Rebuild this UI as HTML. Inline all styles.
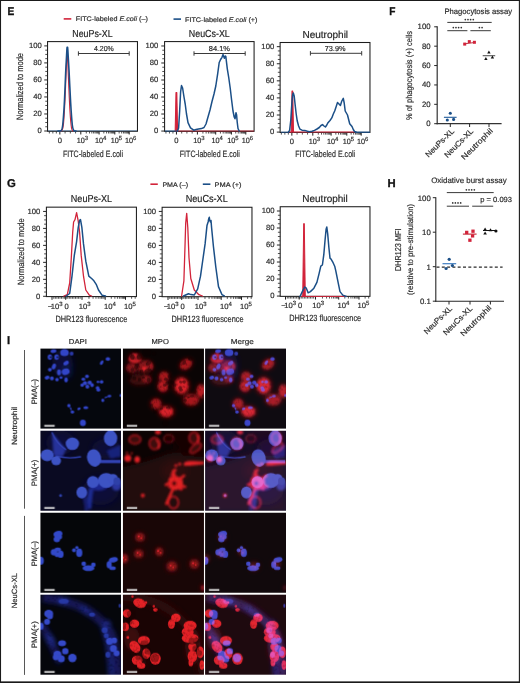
<!DOCTYPE html><html><head><meta charset="utf-8"><style>html,body{margin:0;padding:0;background:#fff}svg{display:block;will-change:transform}text{font-family:"Liberation Sans",sans-serif;text-rendering:geometricPrecision;stroke:#2b2b2b;stroke-width:0.18px}</style></head><body>
<svg width="520" height="683" viewBox="0 0 520 683">
<defs><filter id="mott" filterUnits="userSpaceOnUse" x="0" y="0" width="81" height="81"><feTurbulence type="fractalNoise" baseFrequency="0.4" numOctaves="2" seed="7" result="n"/><feColorMatrix in="n" type="matrix" values="1.3 0 0 0 0.3  1.3 0 0 0 0.3  1.3 0 0 0 0.3  0 0 0 0 1" result="g"/><feComposite in="SourceGraphic" in2="g" operator="arithmetic" k1="1" k2="0" k3="0" k4="0"/></filter><filter id="b06" x="-50%" y="-50%" width="200%" height="200%"><feGaussianBlur stdDeviation="0.6"/></filter><filter id="b08" x="-50%" y="-50%" width="200%" height="200%"><feGaussianBlur stdDeviation="0.8"/></filter><filter id="b1" x="-50%" y="-50%" width="200%" height="200%"><feGaussianBlur stdDeviation="1.0"/></filter><filter id="b2" x="-50%" y="-50%" width="200%" height="200%"><feGaussianBlur stdDeviation="2.0"/></filter><filter id="b3" x="-50%" y="-50%" width="200%" height="200%"><feGaussianBlur stdDeviation="3.0"/></filter><g id="d1"><rect width="81" height="81" fill="#05070d"/><g filter="url(#b3)"><ellipse cx="22" cy="15" rx="10" ry="14" fill="#0a1038"/><ellipse cx="26" cy="22" rx="5" ry="8" fill="#0d1650"/></g><g filter="url(#b06)"><ellipse cx="13" cy="2.6" rx="3" ry="1.8" fill="#3144c8" transform="rotate(-10 13 2.6)"/><ellipse cx="24" cy="4.1" rx="4.3" ry="3.5" fill="#3144c8"/><ellipse cx="31.1" cy="4.9" rx="2" ry="2" fill="#2a38a8"/><ellipse cx="9.4" cy="8.5" rx="2.2" ry="2.8" fill="#3144c8"/><ellipse cx="10.17" cy="8.5" rx="0.77" ry="0.84" fill="#05070d"/><ellipse cx="16.1" cy="8.5" rx="2.3" ry="2.8" fill="#3144c8"/><ellipse cx="16.91" cy="8.5" rx="0.8" ry="0.84" fill="#05070d"/><ellipse cx="25.6" cy="14.4" rx="3" ry="2" fill="#3144c8" transform="rotate(-30 25.6 14.4)"/><ellipse cx="13.4" cy="17.9" rx="2" ry="3" fill="#3144c8" transform="rotate(20 13.4 17.9)"/><ellipse cx="9.4" cy="21.1" rx="2" ry="1.8" fill="#3144c8"/><ellipse cx="18.5" cy="23.8" rx="2" ry="3" fill="#3144c8"/><ellipse cx="25.2" cy="23.1" rx="4" ry="3.2" fill="#3144c8" transform="rotate(-20 25.2 23.1)"/><ellipse cx="6.6" cy="29" rx="2.5" ry="1.8" fill="#3144c8" transform="rotate(-20 6.6 29)"/><ellipse cx="11.4" cy="29.8" rx="2" ry="2" fill="#3144c8"/><ellipse cx="16.5" cy="31" rx="1.8" ry="1.8" fill="#3144c8"/><ellipse cx="20.5" cy="29" rx="1.5" ry="1.2" fill="#3144c8"/><ellipse cx="25.6" cy="31.3" rx="1.8" ry="2.5" fill="#3144c8"/><ellipse cx="67.4" cy="10.4" rx="2.3" ry="1.8" fill="#3144c8"/><ellipse cx="61.2" cy="14" rx="1.5" ry="2.5" fill="#3144c8" transform="rotate(30 61.2 14)"/><ellipse cx="46.5" cy="27.8" rx="2" ry="1.7" fill="#3144c8"/><ellipse cx="42.9" cy="30.6" rx="2" ry="1.5" fill="#3144c8"/><ellipse cx="44.5" cy="34.5" rx="2.2" ry="2" fill="#3144c8"/><ellipse cx="49.2" cy="34.1" rx="2.2" ry="2" fill="#3144c8"/><ellipse cx="51.6" cy="36.5" rx="1.8" ry="2" fill="#3144c8"/><ellipse cx="46.9" cy="38" rx="2" ry="2" fill="#3144c8"/><ellipse cx="41.7" cy="36.5" rx="1.8" ry="1.8" fill="#3144c8"/><ellipse cx="57.5" cy="33.3" rx="1.3" ry="1.3" fill="#3144c8"/><ellipse cx="61.1" cy="33.3" rx="1.8" ry="1.8" fill="#3144c8"/><ellipse cx="57.1" cy="39.2" rx="1.8" ry="1.8" fill="#3144c8"/><ellipse cx="57.9" cy="41.2" rx="2" ry="1.7" fill="#3144c8"/><ellipse cx="68.9" cy="47.5" rx="2" ry="1.3" fill="#3144c8" transform="rotate(-10 68.9 47.5)"/><ellipse cx="65.5" cy="48.6" rx="1.8" ry="0.7" fill="#3144c8" transform="rotate(-20 65.5 48.6)"/><ellipse cx="62.3" cy="51.8" rx="1.5" ry="1.8" fill="#3144c8"/><ellipse cx="28.4" cy="57" rx="1.7" ry="1.7" fill="#3144c8"/><ellipse cx="30.3" cy="60.1" rx="0.7" ry="1.8" fill="#3144c8" transform="rotate(-20 30.3 60.1)"/><ellipse cx="31.9" cy="63.3" rx="1.8" ry="1.6" fill="#3144c8"/><ellipse cx="38.5" cy="60.1" rx="1.8" ry="1.2" fill="#3144c8" transform="rotate(-30 38.5 60.1)"/><ellipse cx="45.3" cy="59" rx="2.5" ry="1.5" fill="#3144c8"/><ellipse cx="42.4" cy="74.3" rx="3" ry="3.2" fill="#3144c8"/><ellipse cx="80.2" cy="46.7" rx="1.2" ry="1.5" fill="#3144c8"/></g></g><g id="m1"><rect width="81" height="81" fill="#0a0404"/><g filter="url(#mott)"><g filter="url(#b2)"><ellipse cx="11.9" cy="9.7" rx="7.15" ry="6.05" fill="#440709"/><ellipse cx="22.1" cy="18.3" rx="8.8" ry="7.7" fill="#440709"/><ellipse cx="8.7" cy="19.1" rx="6.6" ry="5.5" fill="#440709"/><ellipse cx="23.6" cy="30.7" rx="5.5" ry="4.4" fill="#440709"/><ellipse cx="41" cy="28" rx="6.05" ry="5.5" fill="#5a090d"/><ellipse cx="40" cy="37.4" rx="6.05" ry="6.6" fill="#640a0e"/><ellipse cx="58.5" cy="37" rx="8.25" ry="9.35" fill="#780a10"/><ellipse cx="63" cy="15.7" rx="7.7" ry="5.5" fill="#5a090d" transform="rotate(-35 63 15.7)"/><ellipse cx="78" cy="42.5" rx="4.95" ry="7.7" fill="#640a0e"/><ellipse cx="68.2" cy="51.2" rx="8.8" ry="6.6" fill="#5a090d"/><ellipse cx="33" cy="55.2" rx="6.05" ry="6.05" fill="#5a090d"/><ellipse cx="43.4" cy="63.1" rx="8.25" ry="6.05" fill="#780a10"/><ellipse cx="17" cy="31" rx="11" ry="5.5" fill="#4a080c"/></g><g filter="url(#b1)"><ellipse cx="11.9" cy="9.7" rx="5.72" ry="4.84" fill="#86121a"/><ellipse cx="22.1" cy="18.3" rx="7.04" ry="6.16" fill="#86121a"/><ellipse cx="8.7" cy="19.1" rx="5.28" ry="4.4" fill="#86121a"/><ellipse cx="23.6" cy="30.7" rx="4.4" ry="3.52" fill="#86121a"/><ellipse cx="41" cy="28" rx="4.84" ry="4.4" fill="#a8161e"/><ellipse cx="40" cy="37.4" rx="4.84" ry="5.28" fill="#b81a22"/><ellipse cx="58.5" cy="37" rx="6.6" ry="7.48" fill="#d8202a"/><ellipse cx="63" cy="15.7" rx="6.16" ry="4.4" fill="#a8161e" transform="rotate(-35 63 15.7)"/><ellipse cx="78" cy="42.5" rx="3.96" ry="6.16" fill="#b81a22"/><ellipse cx="68.2" cy="51.2" rx="7.04" ry="5.28" fill="#a8161e"/><ellipse cx="33" cy="55.2" rx="4.84" ry="4.84" fill="#a8161e"/><ellipse cx="43.4" cy="63.1" rx="6.6" ry="4.84" fill="#d8202a"/></g></g><g filter="url(#b08)"><path d="M6.5,9.5 C8,13 14,14 17.5,10.5" stroke="#e8242c" stroke-width="2.2" fill="none"/><ellipse cx="12" cy="6.5" rx="1.8" ry="1.5" fill="#e8242c"/><ellipse cx="21.3" cy="19.9" rx="2.5" ry="2.2" fill="#e8242c"/><path d="M25,13 C28,14 29.5,17 29,20" stroke="#d0202a" stroke-width="1.5" fill="none"/></g><g filter="url(#b06)" opacity="0.45"><ellipse cx="13" cy="2.6" rx="3" ry="1.8" fill="#0b0505" transform="rotate(-10 13 2.6)"/><ellipse cx="24" cy="4.1" rx="4.3" ry="3.5" fill="#0b0505"/><ellipse cx="31.1" cy="4.9" rx="2" ry="2" fill="#0b0505"/><ellipse cx="9.4" cy="8.5" rx="2.2" ry="2.8" fill="#0b0505"/><ellipse cx="16.1" cy="8.5" rx="2.3" ry="2.8" fill="#0b0505"/><ellipse cx="25.6" cy="14.4" rx="3" ry="2" fill="#0b0505" transform="rotate(-30 25.6 14.4)"/><ellipse cx="13.4" cy="17.9" rx="2" ry="3" fill="#0b0505" transform="rotate(20 13.4 17.9)"/><ellipse cx="9.4" cy="21.1" rx="2" ry="1.8" fill="#0b0505"/><ellipse cx="18.5" cy="23.8" rx="2" ry="3" fill="#0b0505"/><ellipse cx="25.2" cy="23.1" rx="4" ry="3.2" fill="#0b0505" transform="rotate(-20 25.2 23.1)"/><ellipse cx="6.6" cy="29" rx="2.5" ry="1.8" fill="#0b0505" transform="rotate(-20 6.6 29)"/><ellipse cx="11.4" cy="29.8" rx="2" ry="2" fill="#0b0505"/><ellipse cx="16.5" cy="31" rx="1.8" ry="1.8" fill="#0b0505"/><ellipse cx="20.5" cy="29" rx="1.5" ry="1.2" fill="#0b0505"/><ellipse cx="25.6" cy="31.3" rx="1.8" ry="2.5" fill="#0b0505"/><ellipse cx="67.4" cy="10.4" rx="2.3" ry="1.8" fill="#0b0505"/><ellipse cx="61.2" cy="14" rx="1.5" ry="2.5" fill="#0b0505" transform="rotate(30 61.2 14)"/><ellipse cx="46.5" cy="27.8" rx="2" ry="1.7" fill="#0b0505"/><ellipse cx="42.9" cy="30.6" rx="2" ry="1.5" fill="#0b0505"/><ellipse cx="44.5" cy="34.5" rx="2.2" ry="2" fill="#0b0505"/><ellipse cx="49.2" cy="34.1" rx="2.2" ry="2" fill="#0b0505"/><ellipse cx="51.6" cy="36.5" rx="1.8" ry="2" fill="#0b0505"/><ellipse cx="46.9" cy="38" rx="2" ry="2" fill="#0b0505"/><ellipse cx="41.7" cy="36.5" rx="1.8" ry="1.8" fill="#0b0505"/><ellipse cx="57.5" cy="33.3" rx="1.3" ry="1.3" fill="#0b0505"/><ellipse cx="61.1" cy="33.3" rx="1.8" ry="1.8" fill="#0b0505"/><ellipse cx="57.1" cy="39.2" rx="1.8" ry="1.8" fill="#0b0505"/><ellipse cx="57.9" cy="41.2" rx="2" ry="1.7" fill="#0b0505"/><ellipse cx="68.9" cy="47.5" rx="2" ry="1.3" fill="#0b0505" transform="rotate(-10 68.9 47.5)"/><ellipse cx="65.5" cy="48.6" rx="1.8" ry="0.7" fill="#0b0505" transform="rotate(-20 65.5 48.6)"/><ellipse cx="62.3" cy="51.8" rx="1.5" ry="1.8" fill="#0b0505"/><ellipse cx="28.4" cy="57" rx="1.7" ry="1.7" fill="#0b0505"/><ellipse cx="30.3" cy="60.1" rx="0.7" ry="1.8" fill="#0b0505" transform="rotate(-20 30.3 60.1)"/><ellipse cx="31.9" cy="63.3" rx="1.8" ry="1.6" fill="#0b0505"/><ellipse cx="38.5" cy="60.1" rx="1.8" ry="1.2" fill="#0b0505" transform="rotate(-30 38.5 60.1)"/><ellipse cx="45.3" cy="59" rx="2.5" ry="1.5" fill="#0b0505"/><ellipse cx="42.4" cy="74.3" rx="3" ry="3.2" fill="#0b0505"/><ellipse cx="80.2" cy="46.7" rx="1.2" ry="1.5" fill="#0b0505"/></g></g><g id="d2"><rect width="81" height="81" fill="#0a0a22"/><g filter="url(#b3)"><ellipse cx="20" cy="12" rx="14" ry="12" fill="#0e1038"/><ellipse cx="66" cy="18" rx="14" ry="10" fill="#0e1038"/><ellipse cx="60" cy="60" rx="18" ry="14" fill="#0e1038"/></g><g filter="url(#b1)"><path d="M11.4,1.6 L25.6,19 L22,26 L13,25.3 Z" fill="#25319a"/><ellipse cx="58" cy="54" rx="10" ry="6" fill="#1e2890"/><ellipse cx="76" cy="54" rx="5" ry="6" fill="#2a36a0"/><path d="M66,20 L80,14 L80,26 L70,28 Z" fill="#18207a"/><path d="M50.8,58 C49,66 49,72 48.4,78" stroke="#1e2a90" stroke-width="5" fill="none"/><path d="M44,66 C45,70 46,74 46,80" stroke="#161e6a" stroke-width="4" fill="none"/></g><g filter="url(#b06)"><path d="M11.4,1.6 C14,8 18,14 25.6,19" stroke="#3446b8" stroke-width="1.2" fill="none"/><path d="M15.3,25.3 Q28,28.5 40.5,26" stroke="#2f40b0" stroke-width="1.4" fill="none"/><path d="M60,30.8 L80,30.8" stroke="#3242b4" stroke-width="3.2" fill="none"/></g><g filter="url(#b06)"><ellipse cx="31.9" cy="13.05" rx="6.7" ry="6.26" fill="#3d52c4"/><ellipse cx="70.1" cy="7.5" rx="6.7" ry="7.88" fill="#3d52c4"/><ellipse cx="6.7" cy="24.5" rx="6.48" ry="5.94" fill="#3d52c4"/><ellipse cx="15.7" cy="30" rx="4.86" ry="4.54" fill="#3d52c4"/><ellipse cx="53.6" cy="27.2" rx="7.02" ry="8.86" fill="#3d52c4" transform="rotate(-15 53.6 27.2)"/><ellipse cx="52.4" cy="51.3" rx="5.94" ry="5.94" fill="#3d52c4"/><ellipse cx="65.8" cy="49.7" rx="8.1" ry="7.56" fill="#3d52c4"/><ellipse cx="72.5" cy="48" rx="4.86" ry="4.86" fill="#3d52c4"/><ellipse cx="41.3" cy="61.8" rx="5.4" ry="5.94" fill="#3d52c4"/><ellipse cx="76.5" cy="50.5" rx="3.5" ry="4" fill="#2e3fa8"/><ellipse cx="20.1" cy="64.7" rx="1.5" ry="1.5" fill="#2e3fa8"/></g></g><g id="m2"><rect width="81" height="81" fill="#0c0303"/><g filter="url(#b3)"><path d="M-2,36 C10,34 25,30 41,24 C52,20 60,22 70,24 L82,26 L82,82 L-2,82 Z" fill="#240707"/><path d="M40,-2 L82,-2 L82,26 L60,24 Z" fill="#160404"/><ellipse cx="52" cy="40" rx="14" ry="10" fill="#2e0909"/></g><g filter="url(#b1)"><ellipse cx="11.9" cy="8.7" rx="6" ry="4.5" fill="#3c0a0c" stroke="#a8181f" stroke-width="1.4"/><ellipse cx="31.6" cy="12.7" rx="5.5" ry="6" fill="#3c0a0c" stroke="#a8181f" stroke-width="1.4"/><ellipse cx="71" cy="7.1" rx="5" ry="6" fill="#3c0a0c" stroke="#a8181f" stroke-width="1.4"/><ellipse cx="72.6" cy="17.4" rx="7" ry="3.5" fill="#3c0a0c" transform="rotate(-40 72.6 17.4)" stroke="#a8181f" stroke-width="1.4"/><ellipse cx="45.7" cy="7.9" rx="5" ry="4" fill="#240606" stroke="#6e1015" stroke-width="1.4"/></g><g filter="url(#b08)"><path d="M33,9 C36,11 37,15 35,18" stroke="#e02228" stroke-width="1.6" fill="none"/><path d="M74,4 C76,7 76,10 74,12" stroke="#e02228" stroke-width="1.6" fill="none"/><ellipse cx="50.5" cy="71.8" rx="5" ry="6" fill="none" stroke="#d01e26" stroke-width="1.6"/><ellipse cx="4.8" cy="27.6" rx="3.5" ry="3.5" fill="#e42228"/><ellipse cx="14.2" cy="28.8" rx="2.8" ry="3.3" fill="#e42228"/><ellipse cx="52.9" cy="34.7" rx="1.5" ry="1.5" fill="#e42228"/><ellipse cx="56.8" cy="33.2" rx="1.5" ry="1.5" fill="#e42228"/><ellipse cx="19.8" cy="64.7" rx="2" ry="2" fill="#e42228"/><ellipse cx="4" cy="22.1" rx="1" ry="1" fill="#e42228"/><ellipse cx="8.7" cy="22.5" rx="1" ry="1" fill="#e42228"/><ellipse cx="35" cy="1.5" rx="3" ry="2" fill="#e42228"/><ellipse cx="52" cy="39.4" rx="1.6" ry="1.6" fill="#e42228"/><ellipse cx="49" cy="44" rx="1.4" ry="1.4" fill="#e42228"/><ellipse cx="47" cy="56" rx="2" ry="1.5" fill="#e42228"/><ellipse cx="58" cy="58" rx="2" ry="1.8" fill="#e42228"/><path d="M60.8,32.4 C64,29 70,30.5 81,30.8 L81,33.4 C72,33.8 65,35.8 60.8,34.8 Z" fill="#e42228"/><path d="M46,47 C50,44 56,45 59,48 C61,52 60,56 57,58 C54,60 49,60 47,57 C45,54 45,50 46,47 Z" fill="#e02024"/><path d="M50.5,57 C48,63 45.5,68 43.4,73 M55,54 L62,56 M52,46 L50,40.5 M57,48 L61,45 M47,52 L43,54" stroke="#e02024" stroke-width="2.8" fill="none" stroke-linecap="round"/><ellipse cx="51.3" cy="52.6" rx="2.2" ry="2.2" fill="#300808"/></g></g><g id="d3"><rect width="81" height="81" fill="#050609"/><g filter="url(#b06)"><ellipse cx="17.48" cy="21.25" rx="4.55" ry="3.12" fill="#3148c8" transform="rotate(-15 17.48 21.25)"/><ellipse cx="16.35" cy="26.5" rx="3.25" ry="2.99" fill="#3148c8"/><ellipse cx="19.6" cy="24" rx="2.08" ry="2.6" fill="#3148c8"/><ellipse cx="13.5" cy="39.53" rx="3.25" ry="3.25" fill="#3148c8"/><ellipse cx="20.12" cy="41.4" rx="2.99" ry="3.64" fill="#3148c8"/><ellipse cx="17.25" cy="36.77" rx="3.25" ry="2.08" fill="#3148c8"/><ellipse cx="16.75" cy="41.9" rx="2.6" ry="2.34" fill="#3148c8"/><ellipse cx="33.5" cy="37.5" rx="1.95" ry="1.95" fill="#3148c8"/><ellipse cx="38.75" cy="40" rx="3.12" ry="4.29" fill="#3148c8"/><ellipse cx="36.38" cy="34.75" rx="1.69" ry="1.56" fill="#3148c8"/><ellipse cx="43.25" cy="51" rx="2.34" ry="2.34" fill="#3148c8"/><ellipse cx="48" cy="55.38" rx="5.85" ry="2.99" fill="#3148c8"/><ellipse cx="52.88" cy="52" rx="2.34" ry="2.34" fill="#3148c8"/><ellipse cx="72.92" cy="47.12" rx="4.55" ry="2.6" fill="#3148c8" transform="rotate(-10 72.92 47.12)"/><ellipse cx="68.68" cy="51.88" rx="2.6" ry="3.64" fill="#3148c8"/><ellipse cx="72.05" cy="55.38" rx="3.25" ry="1.95" fill="#3148c8"/><ellipse cx="0.5" cy="48" rx="2.86" ry="3.9" fill="#3148c8"/></g></g><g id="m3"><rect width="81" height="81" fill="#190606"/><g filter="url(#b2)"><ellipse cx="17" cy="24.4" rx="6" ry="5.5" fill="#3c080c"/><ellipse cx="15.8" cy="41" rx="6" ry="5.5" fill="#3c080c"/><ellipse cx="36.3" cy="39" rx="5" ry="5.5" fill="#3c080c"/><ellipse cx="48.9" cy="53.6" rx="7" ry="6.5" fill="#3c080c"/><ellipse cx="71.3" cy="51.3" rx="6" ry="6" fill="#3c080c"/><ellipse cx="1.3" cy="45.7" rx="5" ry="6" fill="#3c080c"/><ellipse cx="79.7" cy="75" rx="2.5" ry="4" fill="#3c080c"/></g><g filter="url(#mott)"><g filter="url(#b1)"><ellipse cx="17" cy="24.4" rx="4.2" ry="3.85" fill="#8c1218"/><ellipse cx="15.8" cy="41" rx="4.2" ry="3.85" fill="#8c1218"/><ellipse cx="36.3" cy="39" rx="3.5" ry="3.85" fill="#8c1218"/><ellipse cx="48.9" cy="53.6" rx="4.9" ry="4.55" fill="#8c1218"/><ellipse cx="71.3" cy="51.3" rx="4.2" ry="4.2" fill="#8c1218"/><ellipse cx="1.3" cy="45.7" rx="3.5" ry="4.2" fill="#8c1218"/><ellipse cx="79.7" cy="75" rx="1.75" ry="2.8" fill="#8c1218"/></g></g><g filter="url(#b06)"><ellipse cx="15.8" cy="23.6" rx="1" ry="0.9" fill="#d82430"/><ellipse cx="18.3" cy="25.3" rx="0.9" ry="0.9" fill="#c82028"/><ellipse cx="14.6" cy="40.2" rx="1" ry="0.9" fill="#d82430"/><ellipse cx="17.1" cy="41.9" rx="0.9" ry="0.9" fill="#c82028"/><ellipse cx="35.1" cy="38.2" rx="1" ry="0.9" fill="#d82430"/><ellipse cx="37.6" cy="39.9" rx="0.9" ry="0.9" fill="#c82028"/><ellipse cx="47.7" cy="52.8" rx="1" ry="0.9" fill="#d82430"/><ellipse cx="50.2" cy="54.5" rx="0.9" ry="0.9" fill="#c82028"/><ellipse cx="70.1" cy="50.5" rx="1" ry="0.9" fill="#d82430"/><ellipse cx="72.6" cy="52.2" rx="0.9" ry="0.9" fill="#c82028"/><ellipse cx="0.1" cy="44.9" rx="1" ry="0.9" fill="#d82430"/><ellipse cx="2.6" cy="46.6" rx="0.9" ry="0.9" fill="#c82028"/></g></g><g id="d4"><rect width="81" height="81" fill="#05060b"/><g filter="url(#mott)"><g filter="url(#b2)"><path d="M2,3 C14,4 30,7 44,14 C56,21 64,29 70,38 C75,48 76,62 78,82" stroke="#121955" stroke-width="9" fill="none"/><path d="M0,28 C6,38 12,50 20,68" stroke="#121955" stroke-width="8" fill="none"/><path d="M63,33 C68,42 70,55 71,82" stroke="#161e68" stroke-width="7" fill="none"/><ellipse cx="23" cy="6.5" rx="6" ry="3" fill="#222c90" transform="rotate(15 23 6.5)"/><ellipse cx="45" cy="16" rx="6" ry="3" fill="#1c2680" transform="rotate(35 45 16)"/><ellipse cx="10" cy="45" rx="4" ry="7" fill="#1c2680" transform="rotate(-30 10 45)"/><ellipse cx="66" cy="30" rx="4" ry="5" fill="#1c2680" transform="rotate(30 66 30)"/></g></g><g filter="url(#b06)"><ellipse cx="64.2" cy="35.6" rx="3" ry="3" fill="#2838a4"/><ellipse cx="65.8" cy="41.1" rx="2.5" ry="2.5" fill="#2838a4"/><ellipse cx="67.4" cy="60" rx="2.5" ry="3" fill="#2838a4"/><ellipse cx="79.2" cy="11.1" rx="1" ry="2" fill="#2838a4"/><ellipse cx="23.2" cy="6.4" rx="5" ry="2.5" fill="#2838a4"/><ellipse cx="51.6" cy="19.8" rx="3" ry="2" fill="#2838a4"/><ellipse cx="8.2" cy="19" rx="4.5" ry="4" fill="#3448c8"/><ellipse cx="9.5" cy="21.5" rx="3" ry="3" fill="#3448c8"/><ellipse cx="6.6" cy="26.9" rx="3" ry="3" fill="#3448c8"/><ellipse cx="1.1" cy="31.6" rx="2" ry="3.5" fill="#3448c8"/><ellipse cx="21.6" cy="48.5" rx="4" ry="3" fill="#3448c8"/><ellipse cx="24.8" cy="56.4" rx="3.2" ry="3.2" fill="#3448c8"/><ellipse cx="16.9" cy="60" rx="4" ry="4" fill="#3448c8"/><ellipse cx="20.8" cy="64" rx="3.5" ry="3.5" fill="#3448c8"/><ellipse cx="15.3" cy="62.4" rx="3" ry="3" fill="#3448c8"/><ellipse cx="31.9" cy="63.2" rx="4.2" ry="4.2" fill="#3448c8"/><ellipse cx="69" cy="46.6" rx="3.5" ry="3.5" fill="#3448c8"/><ellipse cx="73.7" cy="45.8" rx="3" ry="3" fill="#3448c8"/><ellipse cx="72.9" cy="53.7" rx="3.5" ry="3.5" fill="#3448c8"/><ellipse cx="76.1" cy="58.5" rx="3" ry="3" fill="#3448c8"/></g></g><g id="m4"><rect width="81" height="81" fill="#1a0404"/><g filter="url(#b3)"><path d="M-2,2 C20,2 40,8 55,22 C68,34 76,48 80,80" stroke="#2e0707" stroke-width="9" fill="none"/><path d="M2,32 C10,42 16,54 22,70" stroke="#2e0707" stroke-width="8" fill="none"/></g><g filter="url(#b2)"><ellipse cx="9" cy="44" rx="8" ry="12" fill="#3a080c"/><ellipse cx="70" cy="52" rx="8" ry="18" fill="#3a080c"/></g><g filter="url(#mott)"><g filter="url(#b06)"><ellipse cx="16.6" cy="8.4" rx="6.6" ry="4.56" fill="#e42028" transform="rotate(20 16.6 8.4)"/><ellipse cx="9.5" cy="1.7" rx="1.2" ry="1.2" fill="#e42028"/><ellipse cx="22.9" cy="8" rx="1.44" ry="1.44" fill="#e42028"/><ellipse cx="32.4" cy="15.1" rx="2.4" ry="1.8" fill="#e42028"/><ellipse cx="30.8" cy="11.5" rx="1.2" ry="1.2" fill="#e42028"/><ellipse cx="4" cy="18.6" rx="4.2" ry="4.2" fill="#e42028"/><ellipse cx="11.5" cy="28.9" rx="4.8" ry="4.2" fill="#e42028"/><ellipse cx="2.4" cy="32" rx="3.6" ry="4.2" fill="#e42028"/><ellipse cx="52.9" cy="23" rx="4.8" ry="4.2" fill="#e42028"/><ellipse cx="48.5" cy="29.3" rx="3.6" ry="4.8" fill="#e42028"/><ellipse cx="67.1" cy="30.8" rx="6.6" ry="4.8" fill="#e42028"/><ellipse cx="64.7" cy="37.2" rx="6" ry="4.8" fill="#e42028"/><ellipse cx="20.9" cy="45.8" rx="6" ry="4.56" fill="#e42028"/><ellipse cx="11.9" cy="52.1" rx="4.8" ry="6.6" fill="#e42028" transform="rotate(-35 11.9 52.1)"/><ellipse cx="4.8" cy="42.7" rx="1.44" ry="1.44" fill="#e42028"/><ellipse cx="23.3" cy="58.8" rx="4.2" ry="5.4" fill="#e42028"/><ellipse cx="14.2" cy="65.5" rx="5.4" ry="4.8" fill="#e42028"/><ellipse cx="18.2" cy="71.1" rx="4.2" ry="3" fill="#e42028"/><ellipse cx="32.4" cy="64" rx="5.4" ry="6" fill="#e42028"/><ellipse cx="67.1" cy="43.5" rx="8.4" ry="4.8" fill="#e42028"/><ellipse cx="69.4" cy="52.1" rx="4.2" ry="4.2" fill="#e42028"/><ellipse cx="77.3" cy="57.6" rx="3.6" ry="6" fill="#e42028"/><ellipse cx="69.4" cy="61.6" rx="4.8" ry="6" fill="#e42028"/><ellipse cx="67.9" cy="67.9" rx="2.4" ry="3.6" fill="#e42028"/><ellipse cx="78.9" cy="70.3" rx="2.4" ry="4.8" fill="#e42028"/></g></g><g filter="url(#b06)" opacity="0.35"><ellipse cx="8.2" cy="19" rx="4.5" ry="4" fill="#1a0404"/><ellipse cx="9.5" cy="21.5" rx="3" ry="3" fill="#1a0404"/><ellipse cx="6.6" cy="26.9" rx="3" ry="3" fill="#1a0404"/><ellipse cx="1.1" cy="31.6" rx="2" ry="3.5" fill="#1a0404"/><ellipse cx="21.6" cy="48.5" rx="4" ry="3" fill="#1a0404"/><ellipse cx="24.8" cy="56.4" rx="3.2" ry="3.2" fill="#1a0404"/><ellipse cx="16.9" cy="60" rx="4" ry="4" fill="#1a0404"/><ellipse cx="20.8" cy="64" rx="3.5" ry="3.5" fill="#1a0404"/><ellipse cx="15.3" cy="62.4" rx="3" ry="3" fill="#1a0404"/><ellipse cx="31.9" cy="63.2" rx="4.2" ry="4.2" fill="#1a0404"/><ellipse cx="69" cy="46.6" rx="3.5" ry="3.5" fill="#1a0404"/><ellipse cx="73.7" cy="45.8" rx="3" ry="3" fill="#1a0404"/><ellipse cx="72.9" cy="53.7" rx="3.5" ry="3.5" fill="#1a0404"/><ellipse cx="76.1" cy="58.5" rx="3" ry="3" fill="#1a0404"/></g></g></defs>
<rect x="0" y="0" width="520" height="683" fill="#fff"/>
<text x="7.4" y="14.85" font-size="11.3" text-anchor="start" fill="#111" font-weight="bold" textLength="6.8" lengthAdjust="spacingAndGlyphs" style="stroke:#111;stroke-width:0.3px">E</text>
<text x="389.3" y="14.9" font-size="11.3" text-anchor="start" fill="#111" font-weight="bold" textLength="6.2" lengthAdjust="spacingAndGlyphs" style="stroke:#111;stroke-width:0.3px">F</text>
<text x="6.9" y="186.9" font-size="11.3" text-anchor="start" fill="#111" font-weight="bold" style="stroke:#111;stroke-width:0.3px">G</text>
<text x="387.4" y="186.8" font-size="11.3" text-anchor="start" fill="#111" font-weight="bold" style="stroke:#111;stroke-width:0.3px">H</text>
<text x="6.9" y="344" font-size="11.3" text-anchor="start" fill="#111" font-weight="bold" style="stroke:#111;stroke-width:0.3px">I</text>
<line x1="63.7" y1="18.9" x2="71.3" y2="18.9" stroke="#d2233a" stroke-width="1.6"/>
<text x="75.8" y="21.4" font-size="6.7" fill="#2b2b2b" textLength="72" lengthAdjust="spacingAndGlyphs">FITC-labeled <tspan font-style="italic">E.coli</tspan> (–)</text>
<line x1="173.5" y1="19.1" x2="181" y2="19.1" stroke="#1b4f87" stroke-width="1.6"/>
<text x="185" y="21.6" font-size="6.7" fill="#2b2b2b" textLength="72.5" lengthAdjust="spacingAndGlyphs">FITC-labeled <tspan font-style="italic">E.coli</tspan> (+)</text>
<text x="72.3" y="37.1" font-size="10.2" text-anchor="start" fill="#222" textLength="40.3" lengthAdjust="spacingAndGlyphs">NeuPs-XL</text>
<rect x="47.55" y="41.6" width="89.92" height="89.67" fill="none" stroke="#1c1c1c" stroke-width="1.05"/>
<line x1="44.25" y1="131" x2="47.55" y2="131" stroke="#262626" stroke-width="1"/>
<text x="41.8" y="133.25" font-size="7.7" text-anchor="end" fill="#2b2b2b">0</text>
<line x1="45.25" y1="126.75" x2="47.55" y2="126.75" stroke="#262626" stroke-width="0.8"/>
<line x1="45.25" y1="122.49" x2="47.55" y2="122.49" stroke="#262626" stroke-width="0.8"/>
<line x1="45.25" y1="118.23" x2="47.55" y2="118.23" stroke="#262626" stroke-width="0.8"/>
<line x1="44.25" y1="113.98" x2="47.55" y2="113.98" stroke="#262626" stroke-width="1"/>
<text x="41.8" y="116.23" font-size="7.7" text-anchor="end" fill="#2b2b2b">20</text>
<line x1="45.25" y1="109.72" x2="47.55" y2="109.72" stroke="#262626" stroke-width="0.8"/>
<line x1="45.25" y1="105.47" x2="47.55" y2="105.47" stroke="#262626" stroke-width="0.8"/>
<line x1="45.25" y1="101.22" x2="47.55" y2="101.22" stroke="#262626" stroke-width="0.8"/>
<line x1="44.25" y1="96.96" x2="47.55" y2="96.96" stroke="#262626" stroke-width="1"/>
<text x="41.8" y="99.21" font-size="7.7" text-anchor="end" fill="#2b2b2b">40</text>
<line x1="45.25" y1="92.71" x2="47.55" y2="92.71" stroke="#262626" stroke-width="0.8"/>
<line x1="45.25" y1="88.45" x2="47.55" y2="88.45" stroke="#262626" stroke-width="0.8"/>
<line x1="45.25" y1="84.19" x2="47.55" y2="84.19" stroke="#262626" stroke-width="0.8"/>
<line x1="44.25" y1="79.94" x2="47.55" y2="79.94" stroke="#262626" stroke-width="1"/>
<text x="41.8" y="82.19" font-size="7.7" text-anchor="end" fill="#2b2b2b">60</text>
<line x1="45.25" y1="75.69" x2="47.55" y2="75.69" stroke="#262626" stroke-width="0.8"/>
<line x1="45.25" y1="71.43" x2="47.55" y2="71.43" stroke="#262626" stroke-width="0.8"/>
<line x1="45.25" y1="67.17" x2="47.55" y2="67.17" stroke="#262626" stroke-width="0.8"/>
<line x1="44.25" y1="62.92" x2="47.55" y2="62.92" stroke="#262626" stroke-width="1"/>
<text x="41.8" y="65.17" font-size="7.7" text-anchor="end" fill="#2b2b2b">80</text>
<line x1="45.25" y1="58.67" x2="47.55" y2="58.67" stroke="#262626" stroke-width="0.8"/>
<line x1="45.25" y1="54.41" x2="47.55" y2="54.41" stroke="#262626" stroke-width="0.8"/>
<line x1="45.25" y1="50.16" x2="47.55" y2="50.16" stroke="#262626" stroke-width="0.8"/>
<line x1="44.25" y1="45.9" x2="47.55" y2="45.9" stroke="#262626" stroke-width="1"/>
<text x="41.8" y="48.15" font-size="7.7" text-anchor="end" fill="#2b2b2b">100</text>
<line x1="78.4" y1="53.5" x2="129.2" y2="53.5" stroke="#3a3a3a" stroke-width="1"/>
<line x1="78.4" y1="51.3" x2="78.4" y2="55.7" stroke="#3a3a3a" stroke-width="1"/>
<line x1="129.2" y1="51.3" x2="129.2" y2="55.7" stroke="#3a3a3a" stroke-width="1"/>
<text x="94" y="50.8" font-size="7.2" text-anchor="start" fill="#2b2b2b" textLength="19.8" lengthAdjust="spacingAndGlyphs">4.20%</text>
<text x="59.85" y="143.2" font-size="7.6" text-anchor="middle" fill="#2b2b2b">0</text>
<text x="76.65" y="143.2" font-size="7.6" text-anchor="start" fill="#2b2b2b" textLength="8.1" lengthAdjust="spacingAndGlyphs">10</text>
<text x="84.7" y="140.2" font-size="5.9" text-anchor="start" fill="#2b2b2b">3</text>
<text x="94.95" y="143.2" font-size="7.6" text-anchor="start" fill="#2b2b2b" textLength="8.1" lengthAdjust="spacingAndGlyphs">10</text>
<text x="103" y="140.2" font-size="5.9" text-anchor="start" fill="#2b2b2b">4</text>
<text x="110.65" y="143.2" font-size="7.6" text-anchor="start" fill="#2b2b2b" textLength="8.1" lengthAdjust="spacingAndGlyphs">10</text>
<text x="118.7" y="140.2" font-size="5.9" text-anchor="start" fill="#2b2b2b">5</text>
<text x="125.05" y="143.2" font-size="7.6" text-anchor="start" fill="#2b2b2b" textLength="8.1" lengthAdjust="spacingAndGlyphs">10</text>
<text x="133.1" y="140.2" font-size="5.9" text-anchor="start" fill="#2b2b2b">6</text>
<line x1="59.85" y1="131.27" x2="59.85" y2="134.47" stroke="#1c1c1c" stroke-width="1"/>
<line x1="80.8" y1="131.27" x2="80.8" y2="134.47" stroke="#1c1c1c" stroke-width="1"/>
<line x1="99.1" y1="131.27" x2="99.1" y2="134.47" stroke="#1c1c1c" stroke-width="1"/>
<line x1="114.8" y1="131.27" x2="114.8" y2="134.47" stroke="#1c1c1c" stroke-width="1"/>
<line x1="129.2" y1="131.27" x2="129.2" y2="134.47" stroke="#1c1c1c" stroke-width="1"/>
<line x1="86.31" y1="131.27" x2="86.31" y2="133.47" stroke="#2a2a2a" stroke-width="0.8"/>
<line x1="89.53" y1="131.27" x2="89.53" y2="133.47" stroke="#2a2a2a" stroke-width="0.8"/>
<line x1="91.82" y1="131.27" x2="91.82" y2="133.47" stroke="#2a2a2a" stroke-width="0.8"/>
<line x1="93.59" y1="131.27" x2="93.59" y2="133.47" stroke="#2a2a2a" stroke-width="0.8"/>
<line x1="95.04" y1="131.27" x2="95.04" y2="133.47" stroke="#2a2a2a" stroke-width="0.8"/>
<line x1="96.27" y1="131.27" x2="96.27" y2="133.47" stroke="#2a2a2a" stroke-width="0.8"/>
<line x1="97.33" y1="131.27" x2="97.33" y2="133.47" stroke="#2a2a2a" stroke-width="0.8"/>
<line x1="98.26" y1="131.27" x2="98.26" y2="133.47" stroke="#2a2a2a" stroke-width="0.8"/>
<line x1="103.83" y1="131.27" x2="103.83" y2="133.47" stroke="#2a2a2a" stroke-width="0.8"/>
<line x1="106.59" y1="131.27" x2="106.59" y2="133.47" stroke="#2a2a2a" stroke-width="0.8"/>
<line x1="108.55" y1="131.27" x2="108.55" y2="133.47" stroke="#2a2a2a" stroke-width="0.8"/>
<line x1="110.07" y1="131.27" x2="110.07" y2="133.47" stroke="#2a2a2a" stroke-width="0.8"/>
<line x1="111.32" y1="131.27" x2="111.32" y2="133.47" stroke="#2a2a2a" stroke-width="0.8"/>
<line x1="112.37" y1="131.27" x2="112.37" y2="133.47" stroke="#2a2a2a" stroke-width="0.8"/>
<line x1="113.28" y1="131.27" x2="113.28" y2="133.47" stroke="#2a2a2a" stroke-width="0.8"/>
<line x1="114.08" y1="131.27" x2="114.08" y2="133.47" stroke="#2a2a2a" stroke-width="0.8"/>
<line x1="119.13" y1="131.27" x2="119.13" y2="133.47" stroke="#2a2a2a" stroke-width="0.8"/>
<line x1="121.67" y1="131.27" x2="121.67" y2="133.47" stroke="#2a2a2a" stroke-width="0.8"/>
<line x1="123.47" y1="131.27" x2="123.47" y2="133.47" stroke="#2a2a2a" stroke-width="0.8"/>
<line x1="124.87" y1="131.27" x2="124.87" y2="133.47" stroke="#2a2a2a" stroke-width="0.8"/>
<line x1="126.01" y1="131.27" x2="126.01" y2="133.47" stroke="#2a2a2a" stroke-width="0.8"/>
<line x1="126.97" y1="131.27" x2="126.97" y2="133.47" stroke="#2a2a2a" stroke-width="0.8"/>
<line x1="127.8" y1="131.27" x2="127.8" y2="133.47" stroke="#2a2a2a" stroke-width="0.8"/>
<line x1="128.54" y1="131.27" x2="128.54" y2="133.47" stroke="#2a2a2a" stroke-width="0.8"/>
<line x1="65.09" y1="131.27" x2="65.09" y2="133.47" stroke="#2a2a2a" stroke-width="0.8"/>
<line x1="70.33" y1="131.27" x2="70.33" y2="133.47" stroke="#2a2a2a" stroke-width="0.8"/>
<line x1="75.56" y1="131.27" x2="75.56" y2="133.47" stroke="#2a2a2a" stroke-width="0.8"/>
<line x1="56.35" y1="131.27" x2="56.35" y2="133.47" stroke="#2a2a2a" stroke-width="0.8"/>
<line x1="52.85" y1="131.27" x2="52.85" y2="133.47" stroke="#2a2a2a" stroke-width="0.8"/>
<line x1="49.35" y1="131.27" x2="49.35" y2="133.47" stroke="#2a2a2a" stroke-width="0.8"/>
<text x="63" y="156.6" font-size="9.2" text-anchor="start" fill="#2b2b2b" textLength="60" lengthAdjust="spacingAndGlyphs">FITC-labeled E.coli</text>
<text x="188.8" y="37.1" font-size="10.2" text-anchor="start" fill="#222" textLength="41" lengthAdjust="spacingAndGlyphs">NeuCs-XL</text>
<rect x="164.58" y="41.58" width="89.5" height="89.76" fill="none" stroke="#1c1c1c" stroke-width="1.05"/>
<line x1="161.28" y1="131.05" x2="164.58" y2="131.05" stroke="#262626" stroke-width="1"/>
<text x="158.4" y="133.3" font-size="7.7" text-anchor="end" fill="#2b2b2b">0</text>
<line x1="162.28" y1="126.8" x2="164.58" y2="126.8" stroke="#262626" stroke-width="0.8"/>
<line x1="162.28" y1="122.54" x2="164.58" y2="122.54" stroke="#262626" stroke-width="0.8"/>
<line x1="162.28" y1="118.29" x2="164.58" y2="118.29" stroke="#262626" stroke-width="0.8"/>
<line x1="161.28" y1="114.03" x2="164.58" y2="114.03" stroke="#262626" stroke-width="1"/>
<text x="158.4" y="116.28" font-size="7.7" text-anchor="end" fill="#2b2b2b">20</text>
<line x1="162.28" y1="109.78" x2="164.58" y2="109.78" stroke="#262626" stroke-width="0.8"/>
<line x1="162.28" y1="105.53" x2="164.58" y2="105.53" stroke="#262626" stroke-width="0.8"/>
<line x1="162.28" y1="101.27" x2="164.58" y2="101.27" stroke="#262626" stroke-width="0.8"/>
<line x1="161.28" y1="97.02" x2="164.58" y2="97.02" stroke="#262626" stroke-width="1"/>
<text x="158.4" y="99.27" font-size="7.7" text-anchor="end" fill="#2b2b2b">40</text>
<line x1="162.28" y1="92.76" x2="164.58" y2="92.76" stroke="#262626" stroke-width="0.8"/>
<line x1="162.28" y1="88.51" x2="164.58" y2="88.51" stroke="#262626" stroke-width="0.8"/>
<line x1="162.28" y1="84.26" x2="164.58" y2="84.26" stroke="#262626" stroke-width="0.8"/>
<line x1="161.28" y1="80" x2="164.58" y2="80" stroke="#262626" stroke-width="1"/>
<text x="158.4" y="82.25" font-size="7.7" text-anchor="end" fill="#2b2b2b">60</text>
<line x1="162.28" y1="75.75" x2="164.58" y2="75.75" stroke="#262626" stroke-width="0.8"/>
<line x1="162.28" y1="71.49" x2="164.58" y2="71.49" stroke="#262626" stroke-width="0.8"/>
<line x1="162.28" y1="67.24" x2="164.58" y2="67.24" stroke="#262626" stroke-width="0.8"/>
<line x1="161.28" y1="62.99" x2="164.58" y2="62.99" stroke="#262626" stroke-width="1"/>
<text x="158.4" y="65.24" font-size="7.7" text-anchor="end" fill="#2b2b2b">80</text>
<line x1="162.28" y1="58.73" x2="164.58" y2="58.73" stroke="#262626" stroke-width="0.8"/>
<line x1="162.28" y1="54.48" x2="164.58" y2="54.48" stroke="#262626" stroke-width="0.8"/>
<line x1="162.28" y1="50.22" x2="164.58" y2="50.22" stroke="#262626" stroke-width="0.8"/>
<line x1="161.28" y1="45.97" x2="164.58" y2="45.97" stroke="#262626" stroke-width="1"/>
<text x="158.4" y="48.22" font-size="7.7" text-anchor="end" fill="#2b2b2b">100</text>
<line x1="194" y1="53.5" x2="245.2" y2="53.5" stroke="#3a3a3a" stroke-width="1"/>
<line x1="194" y1="51.3" x2="194" y2="55.7" stroke="#3a3a3a" stroke-width="1"/>
<line x1="245.2" y1="51.3" x2="245.2" y2="55.7" stroke="#3a3a3a" stroke-width="1"/>
<text x="208.8" y="50.8" font-size="7.2" text-anchor="start" fill="#2b2b2b" textLength="21.2" lengthAdjust="spacingAndGlyphs">84.1%</text>
<text x="176.45" y="143.2" font-size="7.6" text-anchor="middle" fill="#2b2b2b">0</text>
<text x="193.25" y="143.2" font-size="7.6" text-anchor="start" fill="#2b2b2b" textLength="8.1" lengthAdjust="spacingAndGlyphs">10</text>
<text x="201.3" y="140.2" font-size="5.9" text-anchor="start" fill="#2b2b2b">3</text>
<text x="211.55" y="143.2" font-size="7.6" text-anchor="start" fill="#2b2b2b" textLength="8.1" lengthAdjust="spacingAndGlyphs">10</text>
<text x="219.6" y="140.2" font-size="5.9" text-anchor="start" fill="#2b2b2b">4</text>
<text x="227.25" y="143.2" font-size="7.6" text-anchor="start" fill="#2b2b2b" textLength="8.1" lengthAdjust="spacingAndGlyphs">10</text>
<text x="235.3" y="140.2" font-size="5.9" text-anchor="start" fill="#2b2b2b">5</text>
<text x="241.65" y="143.2" font-size="7.6" text-anchor="start" fill="#2b2b2b" textLength="8.1" lengthAdjust="spacingAndGlyphs">10</text>
<text x="249.7" y="140.2" font-size="5.9" text-anchor="start" fill="#2b2b2b">6</text>
<line x1="176.45" y1="131.34" x2="176.45" y2="134.54" stroke="#1c1c1c" stroke-width="1"/>
<line x1="197.4" y1="131.34" x2="197.4" y2="134.54" stroke="#1c1c1c" stroke-width="1"/>
<line x1="215.7" y1="131.34" x2="215.7" y2="134.54" stroke="#1c1c1c" stroke-width="1"/>
<line x1="231.4" y1="131.34" x2="231.4" y2="134.54" stroke="#1c1c1c" stroke-width="1"/>
<line x1="245.8" y1="131.34" x2="245.8" y2="134.54" stroke="#1c1c1c" stroke-width="1"/>
<line x1="202.91" y1="131.34" x2="202.91" y2="133.54" stroke="#2a2a2a" stroke-width="0.8"/>
<line x1="206.13" y1="131.34" x2="206.13" y2="133.54" stroke="#2a2a2a" stroke-width="0.8"/>
<line x1="208.42" y1="131.34" x2="208.42" y2="133.54" stroke="#2a2a2a" stroke-width="0.8"/>
<line x1="210.19" y1="131.34" x2="210.19" y2="133.54" stroke="#2a2a2a" stroke-width="0.8"/>
<line x1="211.64" y1="131.34" x2="211.64" y2="133.54" stroke="#2a2a2a" stroke-width="0.8"/>
<line x1="212.87" y1="131.34" x2="212.87" y2="133.54" stroke="#2a2a2a" stroke-width="0.8"/>
<line x1="213.93" y1="131.34" x2="213.93" y2="133.54" stroke="#2a2a2a" stroke-width="0.8"/>
<line x1="214.86" y1="131.34" x2="214.86" y2="133.54" stroke="#2a2a2a" stroke-width="0.8"/>
<line x1="220.43" y1="131.34" x2="220.43" y2="133.54" stroke="#2a2a2a" stroke-width="0.8"/>
<line x1="223.19" y1="131.34" x2="223.19" y2="133.54" stroke="#2a2a2a" stroke-width="0.8"/>
<line x1="225.15" y1="131.34" x2="225.15" y2="133.54" stroke="#2a2a2a" stroke-width="0.8"/>
<line x1="226.67" y1="131.34" x2="226.67" y2="133.54" stroke="#2a2a2a" stroke-width="0.8"/>
<line x1="227.92" y1="131.34" x2="227.92" y2="133.54" stroke="#2a2a2a" stroke-width="0.8"/>
<line x1="228.97" y1="131.34" x2="228.97" y2="133.54" stroke="#2a2a2a" stroke-width="0.8"/>
<line x1="229.88" y1="131.34" x2="229.88" y2="133.54" stroke="#2a2a2a" stroke-width="0.8"/>
<line x1="230.68" y1="131.34" x2="230.68" y2="133.54" stroke="#2a2a2a" stroke-width="0.8"/>
<line x1="235.73" y1="131.34" x2="235.73" y2="133.54" stroke="#2a2a2a" stroke-width="0.8"/>
<line x1="238.27" y1="131.34" x2="238.27" y2="133.54" stroke="#2a2a2a" stroke-width="0.8"/>
<line x1="240.07" y1="131.34" x2="240.07" y2="133.54" stroke="#2a2a2a" stroke-width="0.8"/>
<line x1="241.47" y1="131.34" x2="241.47" y2="133.54" stroke="#2a2a2a" stroke-width="0.8"/>
<line x1="242.61" y1="131.34" x2="242.61" y2="133.54" stroke="#2a2a2a" stroke-width="0.8"/>
<line x1="243.57" y1="131.34" x2="243.57" y2="133.54" stroke="#2a2a2a" stroke-width="0.8"/>
<line x1="244.4" y1="131.34" x2="244.4" y2="133.54" stroke="#2a2a2a" stroke-width="0.8"/>
<line x1="245.14" y1="131.34" x2="245.14" y2="133.54" stroke="#2a2a2a" stroke-width="0.8"/>
<line x1="181.69" y1="131.34" x2="181.69" y2="133.54" stroke="#2a2a2a" stroke-width="0.8"/>
<line x1="186.92" y1="131.34" x2="186.92" y2="133.54" stroke="#2a2a2a" stroke-width="0.8"/>
<line x1="192.16" y1="131.34" x2="192.16" y2="133.54" stroke="#2a2a2a" stroke-width="0.8"/>
<line x1="172.95" y1="131.34" x2="172.95" y2="133.54" stroke="#2a2a2a" stroke-width="0.8"/>
<line x1="169.45" y1="131.34" x2="169.45" y2="133.54" stroke="#2a2a2a" stroke-width="0.8"/>
<line x1="165.95" y1="131.34" x2="165.95" y2="133.54" stroke="#2a2a2a" stroke-width="0.8"/>
<text x="179.8" y="156.6" font-size="9.2" text-anchor="start" fill="#2b2b2b" textLength="60" lengthAdjust="spacingAndGlyphs">FITC-labeled E.coli</text>
<text x="302.4" y="37.8" font-size="10.2" text-anchor="start" fill="#222" textLength="45.7" lengthAdjust="spacingAndGlyphs">Neutrophil</text>
<rect x="280.12" y="42.5" width="89.85" height="89.93" fill="none" stroke="#1c1c1c" stroke-width="1.05"/>
<line x1="276.82" y1="132.1" x2="280.12" y2="132.1" stroke="#262626" stroke-width="1"/>
<text x="274.2" y="134.35" font-size="7.7" text-anchor="end" fill="#2b2b2b">0</text>
<line x1="277.82" y1="127.83" x2="280.12" y2="127.83" stroke="#262626" stroke-width="0.8"/>
<line x1="277.82" y1="123.56" x2="280.12" y2="123.56" stroke="#262626" stroke-width="0.8"/>
<line x1="277.82" y1="119.28" x2="280.12" y2="119.28" stroke="#262626" stroke-width="0.8"/>
<line x1="276.82" y1="115.01" x2="280.12" y2="115.01" stroke="#262626" stroke-width="1"/>
<text x="274.2" y="117.26" font-size="7.7" text-anchor="end" fill="#2b2b2b">20</text>
<line x1="277.82" y1="110.74" x2="280.12" y2="110.74" stroke="#262626" stroke-width="0.8"/>
<line x1="277.82" y1="106.47" x2="280.12" y2="106.47" stroke="#262626" stroke-width="0.8"/>
<line x1="277.82" y1="102.2" x2="280.12" y2="102.2" stroke="#262626" stroke-width="0.8"/>
<line x1="276.82" y1="97.92" x2="280.12" y2="97.92" stroke="#262626" stroke-width="1"/>
<text x="274.2" y="100.17" font-size="7.7" text-anchor="end" fill="#2b2b2b">40</text>
<line x1="277.82" y1="93.65" x2="280.12" y2="93.65" stroke="#262626" stroke-width="0.8"/>
<line x1="277.82" y1="89.38" x2="280.12" y2="89.38" stroke="#262626" stroke-width="0.8"/>
<line x1="277.82" y1="85.11" x2="280.12" y2="85.11" stroke="#262626" stroke-width="0.8"/>
<line x1="276.82" y1="80.84" x2="280.12" y2="80.84" stroke="#262626" stroke-width="1"/>
<text x="274.2" y="83.09" font-size="7.7" text-anchor="end" fill="#2b2b2b">60</text>
<line x1="277.82" y1="76.56" x2="280.12" y2="76.56" stroke="#262626" stroke-width="0.8"/>
<line x1="277.82" y1="72.29" x2="280.12" y2="72.29" stroke="#262626" stroke-width="0.8"/>
<line x1="277.82" y1="68.02" x2="280.12" y2="68.02" stroke="#262626" stroke-width="0.8"/>
<line x1="276.82" y1="63.75" x2="280.12" y2="63.75" stroke="#262626" stroke-width="1"/>
<text x="274.2" y="66" font-size="7.7" text-anchor="end" fill="#2b2b2b">80</text>
<line x1="277.82" y1="59.48" x2="280.12" y2="59.48" stroke="#262626" stroke-width="0.8"/>
<line x1="277.82" y1="55.2" x2="280.12" y2="55.2" stroke="#262626" stroke-width="0.8"/>
<line x1="277.82" y1="50.93" x2="280.12" y2="50.93" stroke="#262626" stroke-width="0.8"/>
<line x1="276.82" y1="46.66" x2="280.12" y2="46.66" stroke="#262626" stroke-width="1"/>
<text x="274.2" y="48.91" font-size="7.7" text-anchor="end" fill="#2b2b2b">100</text>
<line x1="310.4" y1="53.3" x2="361.7" y2="53.3" stroke="#3a3a3a" stroke-width="1"/>
<line x1="310.4" y1="51.1" x2="310.4" y2="55.5" stroke="#3a3a3a" stroke-width="1"/>
<line x1="361.7" y1="51.1" x2="361.7" y2="55.5" stroke="#3a3a3a" stroke-width="1"/>
<text x="324.7" y="50.6" font-size="7.2" text-anchor="start" fill="#2b2b2b" textLength="20.8" lengthAdjust="spacingAndGlyphs">73.9%</text>
<text x="291.85" y="143.7" font-size="7.6" text-anchor="middle" fill="#2b2b2b">0</text>
<text x="308.65" y="143.7" font-size="7.6" text-anchor="start" fill="#2b2b2b" textLength="8.1" lengthAdjust="spacingAndGlyphs">10</text>
<text x="316.7" y="140.7" font-size="5.9" text-anchor="start" fill="#2b2b2b">3</text>
<text x="326.95" y="143.7" font-size="7.6" text-anchor="start" fill="#2b2b2b" textLength="8.1" lengthAdjust="spacingAndGlyphs">10</text>
<text x="335" y="140.7" font-size="5.9" text-anchor="start" fill="#2b2b2b">4</text>
<text x="342.65" y="143.7" font-size="7.6" text-anchor="start" fill="#2b2b2b" textLength="8.1" lengthAdjust="spacingAndGlyphs">10</text>
<text x="350.7" y="140.7" font-size="5.9" text-anchor="start" fill="#2b2b2b">5</text>
<text x="357.05" y="143.7" font-size="7.6" text-anchor="start" fill="#2b2b2b" textLength="8.1" lengthAdjust="spacingAndGlyphs">10</text>
<text x="365.1" y="140.7" font-size="5.9" text-anchor="start" fill="#2b2b2b">6</text>
<line x1="291.85" y1="132.43" x2="291.85" y2="135.63" stroke="#1c1c1c" stroke-width="1"/>
<line x1="312.8" y1="132.43" x2="312.8" y2="135.63" stroke="#1c1c1c" stroke-width="1"/>
<line x1="331.1" y1="132.43" x2="331.1" y2="135.63" stroke="#1c1c1c" stroke-width="1"/>
<line x1="346.8" y1="132.43" x2="346.8" y2="135.63" stroke="#1c1c1c" stroke-width="1"/>
<line x1="361.2" y1="132.43" x2="361.2" y2="135.63" stroke="#1c1c1c" stroke-width="1"/>
<line x1="318.31" y1="132.43" x2="318.31" y2="134.63" stroke="#2a2a2a" stroke-width="0.8"/>
<line x1="321.53" y1="132.43" x2="321.53" y2="134.63" stroke="#2a2a2a" stroke-width="0.8"/>
<line x1="323.82" y1="132.43" x2="323.82" y2="134.63" stroke="#2a2a2a" stroke-width="0.8"/>
<line x1="325.59" y1="132.43" x2="325.59" y2="134.63" stroke="#2a2a2a" stroke-width="0.8"/>
<line x1="327.04" y1="132.43" x2="327.04" y2="134.63" stroke="#2a2a2a" stroke-width="0.8"/>
<line x1="328.27" y1="132.43" x2="328.27" y2="134.63" stroke="#2a2a2a" stroke-width="0.8"/>
<line x1="329.33" y1="132.43" x2="329.33" y2="134.63" stroke="#2a2a2a" stroke-width="0.8"/>
<line x1="330.26" y1="132.43" x2="330.26" y2="134.63" stroke="#2a2a2a" stroke-width="0.8"/>
<line x1="335.83" y1="132.43" x2="335.83" y2="134.63" stroke="#2a2a2a" stroke-width="0.8"/>
<line x1="338.59" y1="132.43" x2="338.59" y2="134.63" stroke="#2a2a2a" stroke-width="0.8"/>
<line x1="340.55" y1="132.43" x2="340.55" y2="134.63" stroke="#2a2a2a" stroke-width="0.8"/>
<line x1="342.07" y1="132.43" x2="342.07" y2="134.63" stroke="#2a2a2a" stroke-width="0.8"/>
<line x1="343.32" y1="132.43" x2="343.32" y2="134.63" stroke="#2a2a2a" stroke-width="0.8"/>
<line x1="344.37" y1="132.43" x2="344.37" y2="134.63" stroke="#2a2a2a" stroke-width="0.8"/>
<line x1="345.28" y1="132.43" x2="345.28" y2="134.63" stroke="#2a2a2a" stroke-width="0.8"/>
<line x1="346.08" y1="132.43" x2="346.08" y2="134.63" stroke="#2a2a2a" stroke-width="0.8"/>
<line x1="351.13" y1="132.43" x2="351.13" y2="134.63" stroke="#2a2a2a" stroke-width="0.8"/>
<line x1="353.67" y1="132.43" x2="353.67" y2="134.63" stroke="#2a2a2a" stroke-width="0.8"/>
<line x1="355.47" y1="132.43" x2="355.47" y2="134.63" stroke="#2a2a2a" stroke-width="0.8"/>
<line x1="356.87" y1="132.43" x2="356.87" y2="134.63" stroke="#2a2a2a" stroke-width="0.8"/>
<line x1="358.01" y1="132.43" x2="358.01" y2="134.63" stroke="#2a2a2a" stroke-width="0.8"/>
<line x1="358.97" y1="132.43" x2="358.97" y2="134.63" stroke="#2a2a2a" stroke-width="0.8"/>
<line x1="359.8" y1="132.43" x2="359.8" y2="134.63" stroke="#2a2a2a" stroke-width="0.8"/>
<line x1="360.54" y1="132.43" x2="360.54" y2="134.63" stroke="#2a2a2a" stroke-width="0.8"/>
<line x1="297.09" y1="132.43" x2="297.09" y2="134.63" stroke="#2a2a2a" stroke-width="0.8"/>
<line x1="302.33" y1="132.43" x2="302.33" y2="134.63" stroke="#2a2a2a" stroke-width="0.8"/>
<line x1="307.56" y1="132.43" x2="307.56" y2="134.63" stroke="#2a2a2a" stroke-width="0.8"/>
<line x1="288.35" y1="132.43" x2="288.35" y2="134.63" stroke="#2a2a2a" stroke-width="0.8"/>
<line x1="284.85" y1="132.43" x2="284.85" y2="134.63" stroke="#2a2a2a" stroke-width="0.8"/>
<line x1="281.35" y1="132.43" x2="281.35" y2="134.63" stroke="#2a2a2a" stroke-width="0.8"/>
<text x="295.2" y="156.9" font-size="9.2" text-anchor="start" fill="#2b2b2b" textLength="60" lengthAdjust="spacingAndGlyphs">FITC-labeled E.coli</text>
<text x="23.4" y="120" font-size="9.2" text-anchor="start" fill="#2b2b2b" textLength="67" lengthAdjust="spacingAndGlyphs" transform="rotate(-90 23.4 120)">Normalized to mode</text>
<line x1="48" y1="130.7" x2="137" y2="130.7" stroke="#1b4f87" stroke-width="1" stroke-opacity="0.5"/>
<path d="M60.5,131 C60.75,130.87 61.5,131.37 62,130.2 C62.5,129.03 63,129.03 63.5,124 C64,118.97 64.53,109.33 65,100 C65.47,90.67 65.97,75.83 66.3,68 C66.63,60.17 66.8,55 67,53 C67.2,51 67.25,51.5 67.5,56 C67.75,60.5 68.08,70.67 68.5,80 C68.92,89.33 69.5,104 70,112 C70.5,120 71,124.83 71.5,128 C72,131.17 72.75,130.5 73,131" fill="none" stroke="#d2233a" stroke-width="1.1" stroke-linejoin="round" stroke-linecap="round"/>
<path d="M58,131 C58.5,130.93 60.23,131.43 61,130.6 C61.77,129.77 62.05,130.43 62.6,126 C63.15,121.57 63.77,113.33 64.3,104 C64.83,94.67 65.37,79.08 65.8,70 C66.23,60.92 66.65,53.2 66.9,49.5 C67.15,45.8 67.15,47.8 67.3,47.8 C67.45,47.8 67.52,45.8 67.8,49.5 C68.08,53.2 68.53,61.25 69,70 C69.47,78.75 70.05,92.83 70.6,102 C71.15,111.17 71.77,120.28 72.3,125 C72.83,129.72 73.18,129.3 73.8,130.3 C74.42,131.3 75.63,130.88 76,131" fill="none" stroke="#1b4f87" stroke-width="1.6" stroke-linejoin="round" stroke-linecap="round"/>
<polyline points="175.2,131 176,92.5 176.8,92.5 177.6,131" fill="#d2233a" stroke="#d2233a" stroke-width="1.1" stroke-linejoin="round" stroke-linecap="round"/>
<line x1="176" y1="131" x2="254" y2="131" stroke="#a01828" stroke-width="1"/>
<line x1="165" y1="131" x2="178" y2="131" stroke="#1b4f87" stroke-width="1"/>
<polyline points="177.5,131 178.6,128 179.6,112 180.6,92 181.5,85.6 182.6,88 184,97 185.2,104 186.5,114 188,122.7 190.5,127.8 193.7,130.2 196,129.6 198.5,129 201.5,128.6 204,127.5 206,124 208,117 210,110 212,101.5 214,94 215.8,86 217.7,73.6 219.2,62.5 220.6,59.5 222,57.3 223,54.5 223.7,56.5 224.4,58.3 225.2,56 225.8,56.3 227.3,68.8 228.8,78 230.2,88 231.6,100 233,111 234.2,117 235,118.8 236,112.7 236.6,115 237.2,122 238,128.5 239.2,131" fill="none" stroke="#1b4f87" stroke-width="1.5" stroke-linejoin="round" stroke-linecap="round"/>
<polyline points="291.2,132 292,91 292.7,91 293.5,132" fill="#d2233a" stroke="#d2233a" stroke-width="1.1" stroke-linejoin="round" stroke-linecap="round"/>
<line x1="288" y1="132" x2="356" y2="132" stroke="#d2233a" stroke-width="1"/>
<line x1="355" y1="132.2" x2="370" y2="132.2" stroke="#1b4f87" stroke-width="1.3"/>
<line x1="281" y1="132.2" x2="289" y2="132.2" stroke="#1b4f87" stroke-width="1"/>
<polyline points="288.5,132 289.6,130.5 290.8,120 291.8,104 292.6,95 293.3,92.9 294.2,96 295.2,105.4 296.2,114 297.2,120.8 298.6,126 300,129.2 302,130.2 304.8,130.4 307.5,131.2 309.7,131.7 312,131.3 314.5,130.4 317,129 319.3,127.5 321,125.5 322.5,124.6 324,126 325.4,127 326.8,125 328,122.7 330,120.5 331.8,117.9 333.3,114 334.7,111 336.2,106.5 337.5,102.5 339,104 340.4,105.4 341.8,101 343.3,98.3 344.2,103 345.2,111 347.5,115 349.7,123.7 352,126.5 353.3,129.5 354.5,131.5 356,132" fill="none" stroke="#1b4f87" stroke-width="1.5" stroke-linejoin="round" stroke-linecap="round"/>
<text x="444.5" y="13.7" font-size="7.9" text-anchor="start" fill="#2b2b2b" textLength="67.5" lengthAdjust="spacingAndGlyphs">Phagocytosis assay</text>
<line x1="437.2" y1="26.3" x2="437.2" y2="124.2" stroke="#333" stroke-width="1.2"/>
<line x1="436.7" y1="123.7" x2="501.6" y2="123.7" stroke="#333" stroke-width="1.2"/>
<line x1="434.2" y1="123.7" x2="437.2" y2="123.7" stroke="#262626" stroke-width="1"/>
<text x="430.6" y="126.1" font-size="7.8" text-anchor="end" fill="#2b2b2b">0</text>
<line x1="434.2" y1="104.32" x2="437.2" y2="104.32" stroke="#262626" stroke-width="1"/>
<text x="430.6" y="106.72" font-size="7.8" text-anchor="end" fill="#2b2b2b">20</text>
<line x1="434.2" y1="84.94" x2="437.2" y2="84.94" stroke="#262626" stroke-width="1"/>
<text x="430.6" y="87.34" font-size="7.8" text-anchor="end" fill="#2b2b2b">40</text>
<line x1="434.2" y1="65.56" x2="437.2" y2="65.56" stroke="#262626" stroke-width="1"/>
<text x="430.6" y="67.96" font-size="7.8" text-anchor="end" fill="#2b2b2b">60</text>
<line x1="434.2" y1="46.18" x2="437.2" y2="46.18" stroke="#262626" stroke-width="1"/>
<text x="430.6" y="48.58" font-size="7.8" text-anchor="end" fill="#2b2b2b">80</text>
<line x1="434.2" y1="26.8" x2="437.2" y2="26.8" stroke="#262626" stroke-width="1"/>
<text x="430.6" y="29.2" font-size="7.8" text-anchor="end" fill="#2b2b2b">100</text>
<line x1="450.3" y1="123.7" x2="450.3" y2="127" stroke="#262626" stroke-width="1"/>
<line x1="469.6" y1="123.7" x2="469.6" y2="127" stroke="#262626" stroke-width="1"/>
<line x1="489" y1="123.7" x2="489" y2="127" stroke="#262626" stroke-width="1"/>
<text x="412.2" y="120" font-size="8.5" text-anchor="start" fill="#2b2b2b" textLength="89" lengthAdjust="spacingAndGlyphs" transform="rotate(-90 412.2 120)">% of phagocytosis (+) cells</text>
<text x="454.6" y="131.8" font-size="7.8" text-anchor="end" fill="#2b2b2b" textLength="36.8" lengthAdjust="spacingAndGlyphs" transform="rotate(-45 454.6 131.8)">NeuPs-XL</text>
<text x="473.8" y="131.8" font-size="7.8" text-anchor="end" fill="#2b2b2b" textLength="37.3" lengthAdjust="spacingAndGlyphs" transform="rotate(-45 473.8 131.8)">NeuCs-XL</text>
<text x="493.3" y="131.3" font-size="7.8" text-anchor="end" fill="#2b2b2b" textLength="41" lengthAdjust="spacingAndGlyphs" transform="rotate(-45 493.3 131.3)">Neutrophil</text>
<line x1="447.3" y1="22.4" x2="491.7" y2="22.4" stroke="#3a3a3a" stroke-width="1"/>
<line x1="447.3" y1="30.7" x2="467.4" y2="30.7" stroke="#3a3a3a" stroke-width="1"/>
<line x1="470.4" y1="30.7" x2="490.8" y2="30.7" stroke="#3a3a3a" stroke-width="1"/>
<circle cx="465.32" cy="19.6" r="0.85" fill="#333"/>
<circle cx="467.97" cy="19.6" r="0.85" fill="#333"/>
<circle cx="470.62" cy="19.6" r="0.85" fill="#333"/>
<circle cx="473.27" cy="19.6" r="0.85" fill="#333"/>
<circle cx="453.32" cy="27.6" r="0.85" fill="#333"/>
<circle cx="455.97" cy="27.6" r="0.85" fill="#333"/>
<circle cx="458.62" cy="27.6" r="0.85" fill="#333"/>
<circle cx="461.27" cy="27.6" r="0.85" fill="#333"/>
<circle cx="479.43" cy="27.6" r="0.85" fill="#333"/>
<circle cx="482.07" cy="27.6" r="0.85" fill="#333"/>
<circle cx="450.3" cy="113.2" r="1.55" fill="#1b4f87"/>
<circle cx="447.3" cy="120" r="1.55" fill="#1b4f87"/>
<circle cx="453.6" cy="119.4" r="1.55" fill="#1b4f87"/>
<line x1="443.9" y1="117.3" x2="456.6" y2="117.3" stroke="#1f5a9a" stroke-width="1.1"/>
<line x1="464.7" y1="43.8" x2="474.4" y2="42.5" stroke="#b02030" stroke-width="0.9"/>
<rect x="463.2" y="42.6" width="3.0" height="3.0" fill="#d2233a"/>
<rect x="467.8" y="40.1" width="3.0" height="3.0" fill="#d2233a"/>
<rect x="472.9" y="40.8" width="3.0" height="3.0" fill="#d2233a"/>
<line x1="482.7" y1="55.7" x2="495.2" y2="55.7" stroke="#555" stroke-width="1.1"/>
<path d="M488.9,50.6 l1.7,2.9 h-3.4z" fill="#111"/>
<path d="M485.9,57.1 l1.7,2.9 h-3.4z" fill="#111"/>
<path d="M492.4,55.5 l1.7,2.9 h-3.4z" fill="#111"/>
<line x1="150.4" y1="184.2" x2="157.8" y2="184.2" stroke="#d2233a" stroke-width="1.6"/>
<text x="162.4" y="186.6" font-size="6.7" text-anchor="start" fill="#2b2b2b" textLength="25.6" lengthAdjust="spacingAndGlyphs">PMA (–)</text>
<line x1="202.8" y1="184.2" x2="210.4" y2="184.2" stroke="#1b4f87" stroke-width="1.6"/>
<text x="214.6" y="186.6" font-size="6.7" text-anchor="start" fill="#2b2b2b" textLength="27" lengthAdjust="spacingAndGlyphs">PMA (+)</text>
<text x="70.8" y="202" font-size="10.2" text-anchor="start" fill="#222" textLength="41.3" lengthAdjust="spacingAndGlyphs">NeuPs-XL</text>
<rect x="46.4" y="207.16" width="90.03" height="89.42" fill="none" stroke="#1c1c1c" stroke-width="1.05"/>
<line x1="43.1" y1="296.3" x2="46.4" y2="296.3" stroke="#262626" stroke-width="1"/>
<text x="40.4" y="298.55" font-size="7.7" text-anchor="end" fill="#2b2b2b">0</text>
<line x1="44.1" y1="292.06" x2="46.4" y2="292.06" stroke="#262626" stroke-width="0.8"/>
<line x1="44.1" y1="287.81" x2="46.4" y2="287.81" stroke="#262626" stroke-width="0.8"/>
<line x1="44.1" y1="283.57" x2="46.4" y2="283.57" stroke="#262626" stroke-width="0.8"/>
<line x1="43.1" y1="279.33" x2="46.4" y2="279.33" stroke="#262626" stroke-width="1"/>
<text x="40.4" y="281.58" font-size="7.7" text-anchor="end" fill="#2b2b2b">20</text>
<line x1="44.1" y1="275.08" x2="46.4" y2="275.08" stroke="#262626" stroke-width="0.8"/>
<line x1="44.1" y1="270.84" x2="46.4" y2="270.84" stroke="#262626" stroke-width="0.8"/>
<line x1="44.1" y1="266.6" x2="46.4" y2="266.6" stroke="#262626" stroke-width="0.8"/>
<line x1="43.1" y1="262.35" x2="46.4" y2="262.35" stroke="#262626" stroke-width="1"/>
<text x="40.4" y="264.6" font-size="7.7" text-anchor="end" fill="#2b2b2b">40</text>
<line x1="44.1" y1="258.11" x2="46.4" y2="258.11" stroke="#262626" stroke-width="0.8"/>
<line x1="44.1" y1="253.87" x2="46.4" y2="253.87" stroke="#262626" stroke-width="0.8"/>
<line x1="44.1" y1="249.62" x2="46.4" y2="249.62" stroke="#262626" stroke-width="0.8"/>
<line x1="43.1" y1="245.38" x2="46.4" y2="245.38" stroke="#262626" stroke-width="1"/>
<text x="40.4" y="247.63" font-size="7.7" text-anchor="end" fill="#2b2b2b">60</text>
<line x1="44.1" y1="241.13" x2="46.4" y2="241.13" stroke="#262626" stroke-width="0.8"/>
<line x1="44.1" y1="236.89" x2="46.4" y2="236.89" stroke="#262626" stroke-width="0.8"/>
<line x1="44.1" y1="232.65" x2="46.4" y2="232.65" stroke="#262626" stroke-width="0.8"/>
<line x1="43.1" y1="228.4" x2="46.4" y2="228.4" stroke="#262626" stroke-width="1"/>
<text x="40.4" y="230.65" font-size="7.7" text-anchor="end" fill="#2b2b2b">80</text>
<line x1="44.1" y1="224.16" x2="46.4" y2="224.16" stroke="#262626" stroke-width="0.8"/>
<line x1="44.1" y1="219.92" x2="46.4" y2="219.92" stroke="#262626" stroke-width="0.8"/>
<line x1="44.1" y1="215.67" x2="46.4" y2="215.67" stroke="#262626" stroke-width="0.8"/>
<line x1="43.1" y1="211.43" x2="46.4" y2="211.43" stroke="#262626" stroke-width="1"/>
<text x="40.4" y="213.68" font-size="7.7" text-anchor="end" fill="#2b2b2b">100</text>
<text x="47.8" y="308.6" font-size="7.6" text-anchor="start" fill="#2b2b2b">−</text>
<text x="50.75" y="308.6" font-size="7.6" text-anchor="start" fill="#2b2b2b" textLength="8.5" lengthAdjust="spacingAndGlyphs">10</text>
<text x="59.3" y="305.6" font-size="6" text-anchor="start" fill="#2b2b2b">3</text>
<text x="66.6" y="308.6" font-size="7.6" text-anchor="middle" fill="#2b2b2b">0</text>
<text x="78.75" y="308.6" font-size="7.6" text-anchor="start" fill="#2b2b2b" textLength="8.5" lengthAdjust="spacingAndGlyphs">10</text>
<text x="87.3" y="305.6" font-size="6" text-anchor="start" fill="#2b2b2b">3</text>
<text x="104.05" y="308.6" font-size="7.6" text-anchor="start" fill="#2b2b2b" textLength="8.5" lengthAdjust="spacingAndGlyphs">10</text>
<text x="112.6" y="305.6" font-size="6" text-anchor="start" fill="#2b2b2b">4</text>
<text x="123.95" y="308.6" font-size="7.6" text-anchor="start" fill="#2b2b2b" textLength="8.5" lengthAdjust="spacingAndGlyphs">10</text>
<text x="132.5" y="305.6" font-size="6" text-anchor="start" fill="#2b2b2b">5</text>
<line x1="52" y1="296.58" x2="52" y2="299.78" stroke="#1c1c1c" stroke-width="1"/>
<line x1="65.7" y1="296.58" x2="65.7" y2="299.78" stroke="#1c1c1c" stroke-width="1"/>
<line x1="82" y1="296.58" x2="82" y2="299.78" stroke="#1c1c1c" stroke-width="1"/>
<line x1="105.2" y1="296.58" x2="105.2" y2="299.78" stroke="#1c1c1c" stroke-width="1"/>
<line x1="125.5" y1="296.58" x2="125.5" y2="299.78" stroke="#1c1c1c" stroke-width="1"/>
<line x1="88.98" y1="296.58" x2="88.98" y2="298.78" stroke="#2a2a2a" stroke-width="0.8"/>
<line x1="93.07" y1="296.58" x2="93.07" y2="298.78" stroke="#2a2a2a" stroke-width="0.8"/>
<line x1="95.97" y1="296.58" x2="95.97" y2="298.78" stroke="#2a2a2a" stroke-width="0.8"/>
<line x1="98.22" y1="296.58" x2="98.22" y2="298.78" stroke="#2a2a2a" stroke-width="0.8"/>
<line x1="100.05" y1="296.58" x2="100.05" y2="298.78" stroke="#2a2a2a" stroke-width="0.8"/>
<line x1="101.61" y1="296.58" x2="101.61" y2="298.78" stroke="#2a2a2a" stroke-width="0.8"/>
<line x1="102.95" y1="296.58" x2="102.95" y2="298.78" stroke="#2a2a2a" stroke-width="0.8"/>
<line x1="104.14" y1="296.58" x2="104.14" y2="298.78" stroke="#2a2a2a" stroke-width="0.8"/>
<line x1="111.31" y1="296.58" x2="111.31" y2="298.78" stroke="#2a2a2a" stroke-width="0.8"/>
<line x1="114.89" y1="296.58" x2="114.89" y2="298.78" stroke="#2a2a2a" stroke-width="0.8"/>
<line x1="117.42" y1="296.58" x2="117.42" y2="298.78" stroke="#2a2a2a" stroke-width="0.8"/>
<line x1="119.39" y1="296.58" x2="119.39" y2="298.78" stroke="#2a2a2a" stroke-width="0.8"/>
<line x1="121" y1="296.58" x2="121" y2="298.78" stroke="#2a2a2a" stroke-width="0.8"/>
<line x1="122.36" y1="296.58" x2="122.36" y2="298.78" stroke="#2a2a2a" stroke-width="0.8"/>
<line x1="123.53" y1="296.58" x2="123.53" y2="298.78" stroke="#2a2a2a" stroke-width="0.8"/>
<line x1="124.57" y1="296.58" x2="124.57" y2="298.78" stroke="#2a2a2a" stroke-width="0.8"/>
<line x1="131.61" y1="296.58" x2="131.61" y2="298.78" stroke="#2a2a2a" stroke-width="0.8"/>
<line x1="135.19" y1="296.58" x2="135.19" y2="298.78" stroke="#2a2a2a" stroke-width="0.8"/>
<line x1="53.8" y1="296.58" x2="53.8" y2="298.78" stroke="#2a2a2a" stroke-width="0.8"/>
<line x1="55.35" y1="296.58" x2="55.35" y2="298.78" stroke="#2a2a2a" stroke-width="0.8"/>
<line x1="56.9" y1="296.58" x2="56.9" y2="298.78" stroke="#2a2a2a" stroke-width="0.8"/>
<line x1="58.45" y1="296.58" x2="58.45" y2="298.78" stroke="#2a2a2a" stroke-width="0.8"/>
<line x1="60" y1="296.58" x2="60" y2="298.78" stroke="#2a2a2a" stroke-width="0.8"/>
<line x1="61.55" y1="296.58" x2="61.55" y2="298.78" stroke="#2a2a2a" stroke-width="0.8"/>
<line x1="63.1" y1="296.58" x2="63.1" y2="298.78" stroke="#2a2a2a" stroke-width="0.8"/>
<line x1="64.65" y1="296.58" x2="64.65" y2="298.78" stroke="#2a2a2a" stroke-width="0.8"/>
<line x1="66.2" y1="296.58" x2="66.2" y2="298.78" stroke="#2a2a2a" stroke-width="0.8"/>
<line x1="67.75" y1="296.58" x2="67.75" y2="298.78" stroke="#2a2a2a" stroke-width="0.8"/>
<line x1="69.3" y1="296.58" x2="69.3" y2="298.78" stroke="#2a2a2a" stroke-width="0.8"/>
<line x1="70.85" y1="296.58" x2="70.85" y2="298.78" stroke="#2a2a2a" stroke-width="0.8"/>
<line x1="72.4" y1="296.58" x2="72.4" y2="298.78" stroke="#2a2a2a" stroke-width="0.8"/>
<line x1="73.95" y1="296.58" x2="73.95" y2="298.78" stroke="#2a2a2a" stroke-width="0.8"/>
<line x1="75.5" y1="296.58" x2="75.5" y2="298.78" stroke="#2a2a2a" stroke-width="0.8"/>
<line x1="77.05" y1="296.58" x2="77.05" y2="298.78" stroke="#2a2a2a" stroke-width="0.8"/>
<line x1="78.6" y1="296.58" x2="78.6" y2="298.78" stroke="#2a2a2a" stroke-width="0.8"/>
<line x1="80.15" y1="296.58" x2="80.15" y2="298.78" stroke="#2a2a2a" stroke-width="0.8"/>
<text x="55.4" y="321.9" font-size="9" text-anchor="start" fill="#2b2b2b" textLength="72" lengthAdjust="spacingAndGlyphs">DHR123 fluorescence</text>
<text x="185.7" y="201.6" font-size="10.2" text-anchor="start" fill="#222" textLength="42.1" lengthAdjust="spacingAndGlyphs">NeuCs-XL</text>
<rect x="162.12" y="207.27" width="89.85" height="89.43" fill="none" stroke="#1c1c1c" stroke-width="1.05"/>
<line x1="158.82" y1="296.4" x2="162.12" y2="296.4" stroke="#262626" stroke-width="1"/>
<text x="156.1" y="298.65" font-size="7.7" text-anchor="end" fill="#2b2b2b">0</text>
<line x1="159.82" y1="292.15" x2="162.12" y2="292.15" stroke="#262626" stroke-width="0.8"/>
<line x1="159.82" y1="287.9" x2="162.12" y2="287.9" stroke="#262626" stroke-width="0.8"/>
<line x1="159.82" y1="283.65" x2="162.12" y2="283.65" stroke="#262626" stroke-width="0.8"/>
<line x1="158.82" y1="279.41" x2="162.12" y2="279.41" stroke="#262626" stroke-width="1"/>
<text x="156.1" y="281.66" font-size="7.7" text-anchor="end" fill="#2b2b2b">20</text>
<line x1="159.82" y1="275.16" x2="162.12" y2="275.16" stroke="#262626" stroke-width="0.8"/>
<line x1="159.82" y1="270.91" x2="162.12" y2="270.91" stroke="#262626" stroke-width="0.8"/>
<line x1="159.82" y1="266.66" x2="162.12" y2="266.66" stroke="#262626" stroke-width="0.8"/>
<line x1="158.82" y1="262.41" x2="162.12" y2="262.41" stroke="#262626" stroke-width="1"/>
<text x="156.1" y="264.66" font-size="7.7" text-anchor="end" fill="#2b2b2b">40</text>
<line x1="159.82" y1="258.16" x2="162.12" y2="258.16" stroke="#262626" stroke-width="0.8"/>
<line x1="159.82" y1="253.91" x2="162.12" y2="253.91" stroke="#262626" stroke-width="0.8"/>
<line x1="159.82" y1="249.67" x2="162.12" y2="249.67" stroke="#262626" stroke-width="0.8"/>
<line x1="158.82" y1="245.42" x2="162.12" y2="245.42" stroke="#262626" stroke-width="1"/>
<text x="156.1" y="247.67" font-size="7.7" text-anchor="end" fill="#2b2b2b">60</text>
<line x1="159.82" y1="241.17" x2="162.12" y2="241.17" stroke="#262626" stroke-width="0.8"/>
<line x1="159.82" y1="236.92" x2="162.12" y2="236.92" stroke="#262626" stroke-width="0.8"/>
<line x1="159.82" y1="232.67" x2="162.12" y2="232.67" stroke="#262626" stroke-width="0.8"/>
<line x1="158.82" y1="228.42" x2="162.12" y2="228.42" stroke="#262626" stroke-width="1"/>
<text x="156.1" y="230.67" font-size="7.7" text-anchor="end" fill="#2b2b2b">80</text>
<line x1="159.82" y1="224.18" x2="162.12" y2="224.18" stroke="#262626" stroke-width="0.8"/>
<line x1="159.82" y1="219.93" x2="162.12" y2="219.93" stroke="#262626" stroke-width="0.8"/>
<line x1="159.82" y1="215.68" x2="162.12" y2="215.68" stroke="#262626" stroke-width="0.8"/>
<line x1="158.82" y1="211.43" x2="162.12" y2="211.43" stroke="#262626" stroke-width="1"/>
<text x="156.1" y="213.68" font-size="7.7" text-anchor="end" fill="#2b2b2b">100</text>
<text x="163.8" y="308.6" font-size="7.6" text-anchor="start" fill="#2b2b2b">−</text>
<text x="166.75" y="308.6" font-size="7.6" text-anchor="start" fill="#2b2b2b" textLength="8.5" lengthAdjust="spacingAndGlyphs">10</text>
<text x="175.3" y="305.6" font-size="6" text-anchor="start" fill="#2b2b2b">3</text>
<text x="182.6" y="308.6" font-size="7.6" text-anchor="middle" fill="#2b2b2b">0</text>
<text x="194.75" y="308.6" font-size="7.6" text-anchor="start" fill="#2b2b2b" textLength="8.5" lengthAdjust="spacingAndGlyphs">10</text>
<text x="203.3" y="305.6" font-size="6" text-anchor="start" fill="#2b2b2b">3</text>
<text x="220.05" y="308.6" font-size="7.6" text-anchor="start" fill="#2b2b2b" textLength="8.5" lengthAdjust="spacingAndGlyphs">10</text>
<text x="228.6" y="305.6" font-size="6" text-anchor="start" fill="#2b2b2b">4</text>
<text x="239.95" y="308.6" font-size="7.6" text-anchor="start" fill="#2b2b2b" textLength="8.5" lengthAdjust="spacingAndGlyphs">10</text>
<text x="248.5" y="305.6" font-size="6" text-anchor="start" fill="#2b2b2b">5</text>
<line x1="168" y1="296.7" x2="168" y2="299.9" stroke="#1c1c1c" stroke-width="1"/>
<line x1="181.7" y1="296.7" x2="181.7" y2="299.9" stroke="#1c1c1c" stroke-width="1"/>
<line x1="198" y1="296.7" x2="198" y2="299.9" stroke="#1c1c1c" stroke-width="1"/>
<line x1="221.2" y1="296.7" x2="221.2" y2="299.9" stroke="#1c1c1c" stroke-width="1"/>
<line x1="241.5" y1="296.7" x2="241.5" y2="299.9" stroke="#1c1c1c" stroke-width="1"/>
<line x1="204.98" y1="296.7" x2="204.98" y2="298.9" stroke="#2a2a2a" stroke-width="0.8"/>
<line x1="209.07" y1="296.7" x2="209.07" y2="298.9" stroke="#2a2a2a" stroke-width="0.8"/>
<line x1="211.97" y1="296.7" x2="211.97" y2="298.9" stroke="#2a2a2a" stroke-width="0.8"/>
<line x1="214.22" y1="296.7" x2="214.22" y2="298.9" stroke="#2a2a2a" stroke-width="0.8"/>
<line x1="216.05" y1="296.7" x2="216.05" y2="298.9" stroke="#2a2a2a" stroke-width="0.8"/>
<line x1="217.61" y1="296.7" x2="217.61" y2="298.9" stroke="#2a2a2a" stroke-width="0.8"/>
<line x1="218.95" y1="296.7" x2="218.95" y2="298.9" stroke="#2a2a2a" stroke-width="0.8"/>
<line x1="220.14" y1="296.7" x2="220.14" y2="298.9" stroke="#2a2a2a" stroke-width="0.8"/>
<line x1="227.31" y1="296.7" x2="227.31" y2="298.9" stroke="#2a2a2a" stroke-width="0.8"/>
<line x1="230.89" y1="296.7" x2="230.89" y2="298.9" stroke="#2a2a2a" stroke-width="0.8"/>
<line x1="233.42" y1="296.7" x2="233.42" y2="298.9" stroke="#2a2a2a" stroke-width="0.8"/>
<line x1="235.39" y1="296.7" x2="235.39" y2="298.9" stroke="#2a2a2a" stroke-width="0.8"/>
<line x1="237" y1="296.7" x2="237" y2="298.9" stroke="#2a2a2a" stroke-width="0.8"/>
<line x1="238.36" y1="296.7" x2="238.36" y2="298.9" stroke="#2a2a2a" stroke-width="0.8"/>
<line x1="239.53" y1="296.7" x2="239.53" y2="298.9" stroke="#2a2a2a" stroke-width="0.8"/>
<line x1="240.57" y1="296.7" x2="240.57" y2="298.9" stroke="#2a2a2a" stroke-width="0.8"/>
<line x1="247.61" y1="296.7" x2="247.61" y2="298.9" stroke="#2a2a2a" stroke-width="0.8"/>
<line x1="251.19" y1="296.7" x2="251.19" y2="298.9" stroke="#2a2a2a" stroke-width="0.8"/>
<line x1="169.8" y1="296.7" x2="169.8" y2="298.9" stroke="#2a2a2a" stroke-width="0.8"/>
<line x1="171.35" y1="296.7" x2="171.35" y2="298.9" stroke="#2a2a2a" stroke-width="0.8"/>
<line x1="172.9" y1="296.7" x2="172.9" y2="298.9" stroke="#2a2a2a" stroke-width="0.8"/>
<line x1="174.45" y1="296.7" x2="174.45" y2="298.9" stroke="#2a2a2a" stroke-width="0.8"/>
<line x1="176" y1="296.7" x2="176" y2="298.9" stroke="#2a2a2a" stroke-width="0.8"/>
<line x1="177.55" y1="296.7" x2="177.55" y2="298.9" stroke="#2a2a2a" stroke-width="0.8"/>
<line x1="179.1" y1="296.7" x2="179.1" y2="298.9" stroke="#2a2a2a" stroke-width="0.8"/>
<line x1="180.65" y1="296.7" x2="180.65" y2="298.9" stroke="#2a2a2a" stroke-width="0.8"/>
<line x1="182.2" y1="296.7" x2="182.2" y2="298.9" stroke="#2a2a2a" stroke-width="0.8"/>
<line x1="183.75" y1="296.7" x2="183.75" y2="298.9" stroke="#2a2a2a" stroke-width="0.8"/>
<line x1="185.3" y1="296.7" x2="185.3" y2="298.9" stroke="#2a2a2a" stroke-width="0.8"/>
<line x1="186.85" y1="296.7" x2="186.85" y2="298.9" stroke="#2a2a2a" stroke-width="0.8"/>
<line x1="188.4" y1="296.7" x2="188.4" y2="298.9" stroke="#2a2a2a" stroke-width="0.8"/>
<line x1="189.95" y1="296.7" x2="189.95" y2="298.9" stroke="#2a2a2a" stroke-width="0.8"/>
<line x1="191.5" y1="296.7" x2="191.5" y2="298.9" stroke="#2a2a2a" stroke-width="0.8"/>
<line x1="193.05" y1="296.7" x2="193.05" y2="298.9" stroke="#2a2a2a" stroke-width="0.8"/>
<line x1="194.6" y1="296.7" x2="194.6" y2="298.9" stroke="#2a2a2a" stroke-width="0.8"/>
<line x1="196.15" y1="296.7" x2="196.15" y2="298.9" stroke="#2a2a2a" stroke-width="0.8"/>
<text x="171.5" y="321.9" font-size="9" text-anchor="start" fill="#2b2b2b" textLength="72" lengthAdjust="spacingAndGlyphs">DHR123 fluorescence</text>
<text x="302.3" y="201.5" font-size="10.2" text-anchor="start" fill="#222" textLength="45.5" lengthAdjust="spacingAndGlyphs">Neutrophil</text>
<rect x="280.2" y="206.73" width="89.77" height="89.62" fill="none" stroke="#1c1c1c" stroke-width="1.05"/>
<line x1="276.9" y1="296.05" x2="280.2" y2="296.05" stroke="#262626" stroke-width="1"/>
<text x="274.6" y="298.3" font-size="7.7" text-anchor="end" fill="#2b2b2b">0</text>
<line x1="277.9" y1="291.8" x2="280.2" y2="291.8" stroke="#262626" stroke-width="0.8"/>
<line x1="277.9" y1="287.55" x2="280.2" y2="287.55" stroke="#262626" stroke-width="0.8"/>
<line x1="277.9" y1="283.29" x2="280.2" y2="283.29" stroke="#262626" stroke-width="0.8"/>
<line x1="276.9" y1="279.04" x2="280.2" y2="279.04" stroke="#262626" stroke-width="1"/>
<text x="274.6" y="281.29" font-size="7.7" text-anchor="end" fill="#2b2b2b">20</text>
<line x1="277.9" y1="274.79" x2="280.2" y2="274.79" stroke="#262626" stroke-width="0.8"/>
<line x1="277.9" y1="270.54" x2="280.2" y2="270.54" stroke="#262626" stroke-width="0.8"/>
<line x1="277.9" y1="266.28" x2="280.2" y2="266.28" stroke="#262626" stroke-width="0.8"/>
<line x1="276.9" y1="262.03" x2="280.2" y2="262.03" stroke="#262626" stroke-width="1"/>
<text x="274.6" y="264.28" font-size="7.7" text-anchor="end" fill="#2b2b2b">40</text>
<line x1="277.9" y1="257.78" x2="280.2" y2="257.78" stroke="#262626" stroke-width="0.8"/>
<line x1="277.9" y1="253.53" x2="280.2" y2="253.53" stroke="#262626" stroke-width="0.8"/>
<line x1="277.9" y1="249.27" x2="280.2" y2="249.27" stroke="#262626" stroke-width="0.8"/>
<line x1="276.9" y1="245.02" x2="280.2" y2="245.02" stroke="#262626" stroke-width="1"/>
<text x="274.6" y="247.27" font-size="7.7" text-anchor="end" fill="#2b2b2b">60</text>
<line x1="277.9" y1="240.77" x2="280.2" y2="240.77" stroke="#262626" stroke-width="0.8"/>
<line x1="277.9" y1="236.51" x2="280.2" y2="236.51" stroke="#262626" stroke-width="0.8"/>
<line x1="277.9" y1="232.26" x2="280.2" y2="232.26" stroke="#262626" stroke-width="0.8"/>
<line x1="276.9" y1="228.01" x2="280.2" y2="228.01" stroke="#262626" stroke-width="1"/>
<text x="274.6" y="230.26" font-size="7.7" text-anchor="end" fill="#2b2b2b">80</text>
<line x1="277.9" y1="223.76" x2="280.2" y2="223.76" stroke="#262626" stroke-width="0.8"/>
<line x1="277.9" y1="219.5" x2="280.2" y2="219.5" stroke="#262626" stroke-width="0.8"/>
<line x1="277.9" y1="215.25" x2="280.2" y2="215.25" stroke="#262626" stroke-width="0.8"/>
<line x1="276.9" y1="211" x2="280.2" y2="211" stroke="#262626" stroke-width="1"/>
<text x="274.6" y="213.25" font-size="7.7" text-anchor="end" fill="#2b2b2b">100</text>
<text x="281.3" y="308" font-size="7.6" text-anchor="start" fill="#2b2b2b">−</text>
<text x="284.25" y="308" font-size="7.6" text-anchor="start" fill="#2b2b2b" textLength="8.5" lengthAdjust="spacingAndGlyphs">10</text>
<text x="292.8" y="305" font-size="6" text-anchor="start" fill="#2b2b2b">3</text>
<text x="300.1" y="308" font-size="7.6" text-anchor="middle" fill="#2b2b2b">0</text>
<text x="312.25" y="308" font-size="7.6" text-anchor="start" fill="#2b2b2b" textLength="8.5" lengthAdjust="spacingAndGlyphs">10</text>
<text x="320.8" y="305" font-size="6" text-anchor="start" fill="#2b2b2b">3</text>
<text x="337.55" y="308" font-size="7.6" text-anchor="start" fill="#2b2b2b" textLength="8.5" lengthAdjust="spacingAndGlyphs">10</text>
<text x="346.1" y="305" font-size="6" text-anchor="start" fill="#2b2b2b">4</text>
<text x="357.45" y="308" font-size="7.6" text-anchor="start" fill="#2b2b2b" textLength="8.5" lengthAdjust="spacingAndGlyphs">10</text>
<text x="366" y="305" font-size="6" text-anchor="start" fill="#2b2b2b">5</text>
<line x1="285.5" y1="296.35" x2="285.5" y2="299.55" stroke="#1c1c1c" stroke-width="1"/>
<line x1="299.2" y1="296.35" x2="299.2" y2="299.55" stroke="#1c1c1c" stroke-width="1"/>
<line x1="315.5" y1="296.35" x2="315.5" y2="299.55" stroke="#1c1c1c" stroke-width="1"/>
<line x1="338.7" y1="296.35" x2="338.7" y2="299.55" stroke="#1c1c1c" stroke-width="1"/>
<line x1="359" y1="296.35" x2="359" y2="299.55" stroke="#1c1c1c" stroke-width="1"/>
<line x1="322.48" y1="296.35" x2="322.48" y2="298.55" stroke="#2a2a2a" stroke-width="0.8"/>
<line x1="326.57" y1="296.35" x2="326.57" y2="298.55" stroke="#2a2a2a" stroke-width="0.8"/>
<line x1="329.47" y1="296.35" x2="329.47" y2="298.55" stroke="#2a2a2a" stroke-width="0.8"/>
<line x1="331.72" y1="296.35" x2="331.72" y2="298.55" stroke="#2a2a2a" stroke-width="0.8"/>
<line x1="333.55" y1="296.35" x2="333.55" y2="298.55" stroke="#2a2a2a" stroke-width="0.8"/>
<line x1="335.11" y1="296.35" x2="335.11" y2="298.55" stroke="#2a2a2a" stroke-width="0.8"/>
<line x1="336.45" y1="296.35" x2="336.45" y2="298.55" stroke="#2a2a2a" stroke-width="0.8"/>
<line x1="337.64" y1="296.35" x2="337.64" y2="298.55" stroke="#2a2a2a" stroke-width="0.8"/>
<line x1="344.81" y1="296.35" x2="344.81" y2="298.55" stroke="#2a2a2a" stroke-width="0.8"/>
<line x1="348.39" y1="296.35" x2="348.39" y2="298.55" stroke="#2a2a2a" stroke-width="0.8"/>
<line x1="350.92" y1="296.35" x2="350.92" y2="298.55" stroke="#2a2a2a" stroke-width="0.8"/>
<line x1="352.89" y1="296.35" x2="352.89" y2="298.55" stroke="#2a2a2a" stroke-width="0.8"/>
<line x1="354.5" y1="296.35" x2="354.5" y2="298.55" stroke="#2a2a2a" stroke-width="0.8"/>
<line x1="355.86" y1="296.35" x2="355.86" y2="298.55" stroke="#2a2a2a" stroke-width="0.8"/>
<line x1="357.03" y1="296.35" x2="357.03" y2="298.55" stroke="#2a2a2a" stroke-width="0.8"/>
<line x1="358.07" y1="296.35" x2="358.07" y2="298.55" stroke="#2a2a2a" stroke-width="0.8"/>
<line x1="365.11" y1="296.35" x2="365.11" y2="298.55" stroke="#2a2a2a" stroke-width="0.8"/>
<line x1="368.69" y1="296.35" x2="368.69" y2="298.55" stroke="#2a2a2a" stroke-width="0.8"/>
<line x1="287.3" y1="296.35" x2="287.3" y2="298.55" stroke="#2a2a2a" stroke-width="0.8"/>
<line x1="288.85" y1="296.35" x2="288.85" y2="298.55" stroke="#2a2a2a" stroke-width="0.8"/>
<line x1="290.4" y1="296.35" x2="290.4" y2="298.55" stroke="#2a2a2a" stroke-width="0.8"/>
<line x1="291.95" y1="296.35" x2="291.95" y2="298.55" stroke="#2a2a2a" stroke-width="0.8"/>
<line x1="293.5" y1="296.35" x2="293.5" y2="298.55" stroke="#2a2a2a" stroke-width="0.8"/>
<line x1="295.05" y1="296.35" x2="295.05" y2="298.55" stroke="#2a2a2a" stroke-width="0.8"/>
<line x1="296.6" y1="296.35" x2="296.6" y2="298.55" stroke="#2a2a2a" stroke-width="0.8"/>
<line x1="298.15" y1="296.35" x2="298.15" y2="298.55" stroke="#2a2a2a" stroke-width="0.8"/>
<line x1="299.7" y1="296.35" x2="299.7" y2="298.55" stroke="#2a2a2a" stroke-width="0.8"/>
<line x1="301.25" y1="296.35" x2="301.25" y2="298.55" stroke="#2a2a2a" stroke-width="0.8"/>
<line x1="302.8" y1="296.35" x2="302.8" y2="298.55" stroke="#2a2a2a" stroke-width="0.8"/>
<line x1="304.35" y1="296.35" x2="304.35" y2="298.55" stroke="#2a2a2a" stroke-width="0.8"/>
<line x1="305.9" y1="296.35" x2="305.9" y2="298.55" stroke="#2a2a2a" stroke-width="0.8"/>
<line x1="307.45" y1="296.35" x2="307.45" y2="298.55" stroke="#2a2a2a" stroke-width="0.8"/>
<line x1="309" y1="296.35" x2="309" y2="298.55" stroke="#2a2a2a" stroke-width="0.8"/>
<line x1="310.55" y1="296.35" x2="310.55" y2="298.55" stroke="#2a2a2a" stroke-width="0.8"/>
<line x1="312.1" y1="296.35" x2="312.1" y2="298.55" stroke="#2a2a2a" stroke-width="0.8"/>
<line x1="313.65" y1="296.35" x2="313.65" y2="298.55" stroke="#2a2a2a" stroke-width="0.8"/>
<text x="289.2" y="320.7" font-size="9" text-anchor="start" fill="#2b2b2b" textLength="72" lengthAdjust="spacingAndGlyphs">DHR123 fluorescence</text>
<text x="23.5" y="285" font-size="9" text-anchor="start" fill="#2b2b2b" textLength="66.6" lengthAdjust="spacingAndGlyphs" transform="rotate(-90 23.5 285)">Normalized to mode</text>
<polyline points="63.9,296 67.3,294.7 69.7,283 71.3,257.7 72.7,232.3 73.6,222 75,219.6 76.6,212.7 78.2,220.8 79.6,232.3 81.2,255.4 83.5,276.2 85.8,290 89.3,295.2 91.6,296" fill="none" stroke="#d2233a" stroke-width="1.3" stroke-linejoin="round" stroke-linecap="round"/>
<polyline points="66.2,296 69.7,293.5 72,276.2 74.3,255.4 76.6,241.6 78.2,227.7 79.6,220.3 80.5,219.6 81.9,227.7 83.5,243.9 85.8,261.2 88.8,276.2 91.6,278.5 93.9,280.8 96.2,284.3 98.5,290 102,295.2 105.5,296" fill="none" stroke="#1b4f87" stroke-width="1.5" stroke-linejoin="round" stroke-linecap="round"/>
<polyline points="181.6,296 183.9,280.8 185,246.2 185.7,223 186.7,213.4 187.8,227.7 189,257.7 190.8,278.5 194.3,290 198.9,294.7 202.4,296" fill="none" stroke="#d2233a" stroke-width="1.3" stroke-linejoin="round" stroke-linecap="round"/>
<polyline points="183.5,296 186.2,294.7 188.5,293.8 191,294.6 194.3,295 197.7,288.9 200.5,276.2 202.8,260 205.1,243.9 207,225.4 208.1,222 208.8,218.5 209.3,217.3 209.8,220.5 210.4,222 211,220.5 211.6,227.7 213.4,246.2 215.8,267 218.5,286.6 222,294.7 224.3,296" fill="none" stroke="#1b4f87" stroke-width="1.5" stroke-linejoin="round" stroke-linecap="round"/>
<polyline points="302.7,296.4 303.7,223.6 304.3,223.6 305.3,296.4" fill="#d2233a" stroke="#d2233a" stroke-width="1" stroke-linejoin="round" stroke-linecap="round"/>
<line x1="300" y1="296.4" x2="347" y2="296.4" stroke="#d2233a" stroke-width="1"/>
<polyline points="300,296.5 302.3,291.6 304.7,287 306.3,288.2 308.1,292.8 310.4,291.6 313.9,288.2 316.9,282.4 319.2,273.1 320.8,266.2 322.4,265 323.8,254.7 325,240.8 326.1,229.3 326.8,227 327.7,233.9 328.9,247.7 330,258.1 331.2,259.3 333.1,262.7 334.7,266.2 335.8,270.8 338.1,282.4 340,291.6 342.8,295.1 346.2,296.5" fill="none" stroke="#1b4f87" stroke-width="1.5" stroke-linejoin="round" stroke-linecap="round"/>
<text x="431.2" y="183.4" font-size="7.9" text-anchor="start" fill="#2b2b2b" textLength="75.5" lengthAdjust="spacingAndGlyphs">Oxidative burst assay</text>
<line x1="435.8" y1="197.3" x2="435.8" y2="301.7" stroke="#262626" stroke-width="1.1"/>
<line x1="435.3" y1="301.2" x2="504" y2="301.2" stroke="#262626" stroke-width="1.1"/>
<line x1="432.8" y1="301.2" x2="435.8" y2="301.2" stroke="#262626" stroke-width="1"/>
<text x="430.8" y="304" font-size="7.8" text-anchor="end" fill="#2b2b2b">0.1</text>
<line x1="432.8" y1="266.7" x2="435.8" y2="266.7" stroke="#262626" stroke-width="1"/>
<text x="430.8" y="269.5" font-size="7.8" text-anchor="end" fill="#2b2b2b">1</text>
<line x1="432.8" y1="232.2" x2="435.8" y2="232.2" stroke="#262626" stroke-width="1"/>
<text x="430.8" y="235" font-size="7.8" text-anchor="end" fill="#2b2b2b">10</text>
<line x1="432.8" y1="197.7" x2="435.8" y2="197.7" stroke="#262626" stroke-width="1"/>
<text x="430.8" y="200.5" font-size="7.8" text-anchor="end" fill="#2b2b2b">100</text>
<line x1="449" y1="301.2" x2="449" y2="304.5" stroke="#262626" stroke-width="1"/>
<line x1="470" y1="301.2" x2="470" y2="304.5" stroke="#262626" stroke-width="1"/>
<line x1="490.4" y1="301.2" x2="490.4" y2="304.5" stroke="#262626" stroke-width="1"/>
<line x1="436.5" y1="267.1" x2="502.6" y2="267.1" stroke="#2a2a2a" stroke-width="1.35" stroke-dasharray="3.0,2.3"/>
<text x="401.3" y="249.8" font-size="8.6" text-anchor="middle" fill="#2b2b2b" textLength="42.5" lengthAdjust="spacingAndGlyphs" transform="rotate(-90 401.3 249.8)">DHR123 MFI</text>
<text x="413" y="249.5" font-size="8.2" text-anchor="middle" fill="#2b2b2b" textLength="91" lengthAdjust="spacingAndGlyphs" transform="rotate(-90 413 249.5)">(relative to pre-stimulation)</text>
<text x="452.7" y="309" font-size="7.8" text-anchor="end" fill="#2b2b2b" textLength="36.3" lengthAdjust="spacingAndGlyphs" transform="rotate(-45 452.7 309)">NeuPs-XL</text>
<text x="472.9" y="309" font-size="7.8" text-anchor="end" fill="#2b2b2b" textLength="37.8" lengthAdjust="spacingAndGlyphs" transform="rotate(-45 472.9 309)">NeuCs-XL</text>
<text x="492" y="308.3" font-size="7.8" text-anchor="end" fill="#2b2b2b" textLength="40.3" lengthAdjust="spacingAndGlyphs" transform="rotate(-45 492 308.3)">Neutrophil</text>
<line x1="446.8" y1="192.6" x2="493.7" y2="192.6" stroke="#3a3a3a" stroke-width="1"/>
<line x1="446.8" y1="206.2" x2="469" y2="206.2" stroke="#3a3a3a" stroke-width="1"/>
<line x1="472.2" y1="206.2" x2="493.2" y2="206.2" stroke="#3a3a3a" stroke-width="1"/>
<circle cx="466.38" cy="189.8" r="0.85" fill="#333"/>
<circle cx="469.02" cy="189.8" r="0.85" fill="#333"/>
<circle cx="471.68" cy="189.8" r="0.85" fill="#333"/>
<circle cx="474.32" cy="189.8" r="0.85" fill="#333"/>
<circle cx="452.72" cy="202.9" r="0.85" fill="#333"/>
<circle cx="455.37" cy="202.9" r="0.85" fill="#333"/>
<circle cx="458.02" cy="202.9" r="0.85" fill="#333"/>
<circle cx="460.67" cy="202.9" r="0.85" fill="#333"/>
<text x="480.3" y="201.8" font-size="7.4" text-anchor="start" fill="#2b2b2b" textLength="31.7" lengthAdjust="spacingAndGlyphs">p = 0.093</text>
<line x1="442.5" y1="263.7" x2="456.2" y2="263.7" stroke="#3f7cc0" stroke-width="1.2"/>
<circle cx="449.2" cy="259.3" r="1.6" fill="#1b4f87"/>
<circle cx="446.1" cy="268.5" r="1.6" fill="#1b4f87"/>
<circle cx="452.4" cy="265.5" r="1.6" fill="#1b4f87"/>
<line x1="462.9" y1="234.1" x2="476.6" y2="234.1" stroke="#c0202e" stroke-width="1.1"/>
<rect x="465.05" y="230.75" width="3.3" height="3.3" fill="#d2233a"/>
<rect x="471.35" y="229.55" width="3.3" height="3.3" fill="#d2233a"/>
<rect x="470.95" y="234.25" width="3.3" height="3.3" fill="#d2233a"/>
<rect x="468.25" y="238.55" width="3.3" height="3.3" fill="#d2233a"/>
<line x1="483" y1="230.5" x2="497" y2="230.5" stroke="#111" stroke-width="1"/>
<path d="M485.1,227.5 l1.8,3.0 h-3.6z" fill="#111"/>
<path d="M490.5,228.2 l1.8,3.0 h-3.6z" fill="#111"/>
<path d="M485.1,231.6 l1.8,3.0 h-3.6z" fill="#111"/>
<circle cx="495.9" cy="231.0" r="1.6" fill="#111"/>
<text x="68.8" y="343.8" font-size="7.2" text-anchor="start" fill="#2b2b2b" textLength="18.1" lengthAdjust="spacingAndGlyphs">DAPI</text>
<text x="151.5" y="343.8" font-size="7.2" text-anchor="start" fill="#2b2b2b" textLength="17.3" lengthAdjust="spacingAndGlyphs">MPO</text>
<text x="230.8" y="343.8" font-size="7.2" text-anchor="start" fill="#2b2b2b" textLength="23" lengthAdjust="spacingAndGlyphs">Merge</text>
<text x="37.3" y="391.6" font-size="7.8" text-anchor="middle" fill="#2b2b2b" textLength="25.3" lengthAdjust="spacingAndGlyphs" transform="rotate(-90 37.3 391.6)">PMA(–)</text>
<text x="37.3" y="472.9" font-size="7.8" text-anchor="middle" fill="#2b2b2b" textLength="26.7" lengthAdjust="spacingAndGlyphs" transform="rotate(-90 37.3 472.9)">PMA(+)</text>
<text x="37.3" y="553.6" font-size="7.8" text-anchor="middle" fill="#2b2b2b" textLength="25.3" lengthAdjust="spacingAndGlyphs" transform="rotate(-90 37.3 553.6)">PMA(–)</text>
<text x="37.3" y="634.7" font-size="7.8" text-anchor="middle" fill="#2b2b2b" textLength="27" lengthAdjust="spacingAndGlyphs" transform="rotate(-90 37.3 634.7)">PMA(+)</text>
<line x1="24.5" y1="350" x2="24.5" y2="508.7" stroke="#444" stroke-width="0.9"/>
<line x1="24.5" y1="515.9" x2="24.5" y2="674.9" stroke="#444" stroke-width="0.9"/>
<text x="17" y="425.9" font-size="7.6" text-anchor="middle" fill="#2b2b2b" textLength="38.2" lengthAdjust="spacingAndGlyphs" transform="rotate(-90 17 425.9)">Neutrophil</text>
<text x="17" y="590.6" font-size="7.6" text-anchor="middle" fill="#2b2b2b" textLength="35.5" lengthAdjust="spacingAndGlyphs" transform="rotate(-90 17 590.6)">NeuCs-XL</text>
<svg x="40.45" y="348.6" width="80.3" height="79.9" viewBox="0 0 80.3 79.9" overflow="hidden">
<use href="#d1"/>
<line x1="3.8" y1="77.2" x2="14.2" y2="77.2" stroke="#e6e6e6" stroke-width="1.7"/>
</svg>
<svg x="122.95" y="348.6" width="80.3" height="79.9" viewBox="0 0 80.3 79.9" overflow="hidden">
<use href="#m1"/>
<line x1="3.8" y1="77.2" x2="14.2" y2="77.2" stroke="#e6e6e6" stroke-width="1.7"/>
</svg>
<svg x="205.1" y="348.6" width="80.3" height="79.9" viewBox="0 0 80.3 79.9" overflow="hidden">
<g style="isolation:isolate"><use href="#d1"/><use href="#m1" style="mix-blend-mode:screen"/></g>
<line x1="3.8" y1="77.2" x2="14.2" y2="77.2" stroke="#e6e6e6" stroke-width="1.7"/>
</svg>
<svg x="40.45" y="430.75" width="80.3" height="79.9" viewBox="0 0 80.3 79.9" overflow="hidden">
<use href="#d2"/>
<line x1="3.8" y1="77.2" x2="14.2" y2="77.2" stroke="#e6e6e6" stroke-width="1.7"/>
</svg>
<svg x="122.95" y="430.75" width="80.3" height="79.9" viewBox="0 0 80.3 79.9" overflow="hidden">
<use href="#m2"/>
<line x1="3.8" y1="77.2" x2="14.2" y2="77.2" stroke="#e6e6e6" stroke-width="1.7"/>
</svg>
<svg x="205.1" y="430.75" width="80.3" height="79.9" viewBox="0 0 80.3 79.9" overflow="hidden">
<g style="isolation:isolate"><use href="#d2"/><use href="#m2" style="mix-blend-mode:screen"/></g>
<line x1="3.8" y1="77.2" x2="14.2" y2="77.2" stroke="#e6e6e6" stroke-width="1.7"/>
</svg>
<svg x="40.45" y="512.75" width="80.3" height="79.9" viewBox="0 0 80.3 79.9" overflow="hidden">
<use href="#d3"/>
<line x1="3.8" y1="77.2" x2="14.2" y2="77.2" stroke="#e6e6e6" stroke-width="1.7"/>
</svg>
<svg x="122.95" y="512.75" width="80.3" height="79.9" viewBox="0 0 80.3 79.9" overflow="hidden">
<use href="#m3"/>
<line x1="3.8" y1="77.2" x2="14.2" y2="77.2" stroke="#e6e6e6" stroke-width="1.7"/>
</svg>
<svg x="205.1" y="512.75" width="80.3" height="79.9" viewBox="0 0 80.3 79.9" overflow="hidden">
<g style="isolation:isolate"><use href="#d3"/><use href="#m3" style="mix-blend-mode:screen" opacity="0.45"/></g>
<line x1="3.8" y1="77.2" x2="14.2" y2="77.2" stroke="#e6e6e6" stroke-width="1.7"/>
</svg>
<svg x="40.45" y="594.7" width="80.3" height="79.9" viewBox="0 0 80.3 79.9" overflow="hidden">
<use href="#d4"/>
<line x1="3.8" y1="77.2" x2="14.2" y2="77.2" stroke="#e6e6e6" stroke-width="1.7"/>
</svg>
<svg x="122.95" y="594.7" width="80.3" height="79.9" viewBox="0 0 80.3 79.9" overflow="hidden">
<use href="#m4"/>
<line x1="3.8" y1="77.2" x2="14.2" y2="77.2" stroke="#e6e6e6" stroke-width="1.7"/>
</svg>
<svg x="205.1" y="594.7" width="80.3" height="79.9" viewBox="0 0 80.3 79.9" overflow="hidden">
<g style="isolation:isolate"><use href="#d4"/><use href="#m4" style="mix-blend-mode:screen"/></g>
<line x1="3.8" y1="77.2" x2="14.2" y2="77.2" stroke="#e6e6e6" stroke-width="1.7"/>
</svg>
<path d="M0,0.5 H520 M0.5,0 V683 M519.4,0 V683 M0,682.25 H520" stroke="#1a1a1a" stroke-width="1.1" fill="none"/>
<path d="M0,682.25 H520" stroke="#1a1a1a" stroke-width="1.5" fill="none"/>
</svg></body></html>
